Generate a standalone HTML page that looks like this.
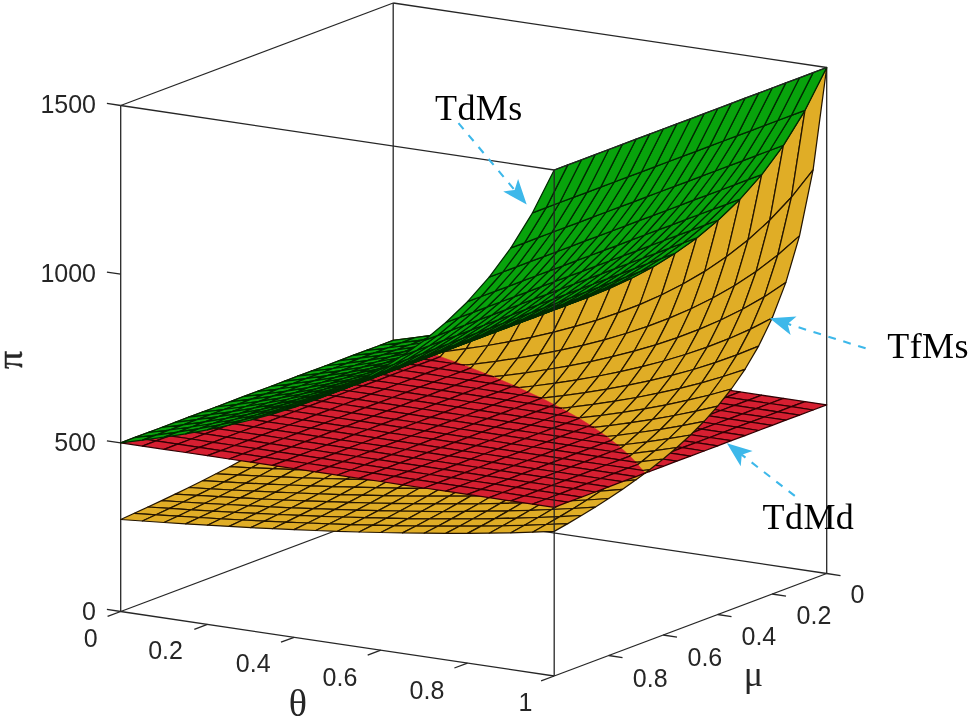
<!DOCTYPE html>
<html lang="en">
<head>
<meta charset="utf-8">
<title>Profit surfaces</title>
<style>
html,body{margin:0;padding:0;background:#fff;}
body{width:968px;height:720px;overflow:hidden;}
svg{display:block;}
.g{fill:#08a30c;stroke:#002a00;}
.y{fill:#e0ad26;stroke:#241500;}
.r{fill:#d61f31;stroke:#300003;}
.g,.y,.r{stroke-width:1.25;stroke-linejoin:round;}
.n{stroke-width:0.5;}
.g.n{stroke:#08a30c;}
.y.n{stroke:#e0ad26;}
.r.n{stroke:#d61f31;}
.e{fill:none;stroke-width:1.25;stroke-linecap:round;}
.e.y{stroke:#241500;}
.e.r{stroke:#300003;}
.b{stroke:#262626;stroke-width:1.3;fill:none;}
.tk{font-family:"Liberation Sans",Arial,Helvetica,sans-serif;font-size:25px;fill:#262626;}
.ax{font-family:"Liberation Serif","Times New Roman",serif;font-size:36px;fill:#262626;}
.an{font-family:"Liberation Serif","Times New Roman",serif;font-size:36px;fill:#000;letter-spacing:0.4px;}
.ar{stroke:#3db8ea;stroke-width:2.1;fill:none;stroke-dasharray:7.8 7.8;}
.ah{fill:#3db8ea;stroke:none;}
</style>
</head>
<body>
<svg width="968" height="720" viewBox="0 0 968 720">
<rect width="968" height="720" fill="#fff"/>
<g id="box-back">
<line class="b" x1="393.2" y1="509" x2="393.2" y2="3"/>
<line class="b" x1="393.2" y1="509" x2="826.7" y2="573.5"/>
<line class="b" x1="393.2" y1="509" x2="120.7" y2="611.5"/>
<line class="b" x1="120.7" y1="611.5" x2="554.2" y2="676"/>
<line class="b" x1="554.2" y1="676" x2="826.7" y2="573.5"/>
<line class="b" x1="120.7" y1="611.5" x2="120.7" y2="105.5"/>
<line class="b" x1="826.7" y1="573.5" x2="826.7" y2="67.5"/>
<line class="b" x1="393.2" y1="3" x2="826.7" y2="67.5"/>
<line class="b" x1="393.2" y1="3" x2="120.7" y2="105.5"/>
<line class="b" x1="120.7" y1="611.5" x2="107.6" y2="616.4"/>
<line class="b" x1="826.7" y1="573.5" x2="840.5" y2="575.6"/>
<line class="b" x1="207.4" y1="624.4" x2="194.3" y2="629.3"/>
<line class="b" x1="772.2" y1="594" x2="786" y2="596.1"/>
<line class="b" x1="294.1" y1="637.3" x2="281" y2="642.2"/>
<line class="b" x1="717.7" y1="614.5" x2="731.5" y2="616.6"/>
<line class="b" x1="380.8" y1="650.2" x2="367.7" y2="655.1"/>
<line class="b" x1="663.2" y1="635" x2="677" y2="637.1"/>
<line class="b" x1="467.5" y1="663.1" x2="454.4" y2="668"/>
<line class="b" x1="608.7" y1="655.5" x2="622.5" y2="657.6"/>
<line class="b" x1="554.2" y1="676" x2="541.1" y2="680.9"/>
<line class="b" x1="120.7" y1="611.5" x2="106.9" y2="609.4"/>
<line class="b" x1="120.7" y1="442.8" x2="106.9" y2="440.8"/>
<line class="b" x1="120.7" y1="274.2" x2="106.9" y2="272.1"/>
<line class="b" x1="120.7" y1="105.5" x2="106.9" y2="103.4"/>
</g>
<g id="surfaces">
<path class="r n" d="M393.2 340.3L414.9 343.6L408.9 345.8L393.2 340.3Z"/><path class="e r" d="M393.2 340.3L414.9 343.6M414.9 343.6L408.9 345.8M393.2 340.3L393.2 340.3"/>
<path class="y n" d="M393.2 340.3L414.9 337.7L408.9 345.8L393.2 340.3Z"/><path class="e y" d="M393.2 340.3L414.9 337.7M414.9 337.7L408.9 345.8M393.2 340.3L393.2 340.3"/>
<path class="y n" d="M393.2 340.3L393.2 340.3L408.9 345.8L401.2 356.1L379.6 357.9Z"/><path class="e y" d="M393.2 340.3L393.2 340.3M408.9 345.8L401.2 356.1M401.2 356.1L379.6 357.9M379.6 357.9L393.2 340.3"/>
<path class="r n" d="M393.2 340.3L393.2 340.3L408.9 345.8L401.2 348.7L379.6 345.5Z"/><path class="e r" d="M393.2 340.3L393.2 340.3M408.9 345.8L401.2 348.7M401.2 348.7L379.6 345.5M379.6 345.5L393.2 340.3"/>
<path class="g" d="M393.2 340.3L414.9 337.7L401.2 342.9L379.6 345.5Z"/>
<path class="r n" d="M414.9 343.6L436.6 346.8L425 351.1L408.9 345.8Z"/><path class="e r" d="M414.9 343.6L436.6 346.8M436.6 346.8L425 351.1M408.9 345.8L414.9 343.6"/>
<path class="y n" d="M414.9 337.7L436.6 334.7L425 351.1L408.9 345.8Z"/><path class="e y" d="M414.9 337.7L436.6 334.7M436.6 334.7L425 351.1M408.9 345.8L414.9 337.7"/>
<path class="g" d="M414.9 337.7L436.6 334.7L422.9 339.9L401.2 342.9Z"/>
<path class="y" d="M379.6 357.9L401.2 356.1L387.6 371.6L365.9 372.8Z"/>
<path class="y n" d="M425 351.1L422.9 354L401.2 356.1L408.9 345.8Z"/><path class="e y" d="M425 351.1L422.9 354M422.9 354L401.2 356.1M401.2 356.1L408.9 345.8"/>
<path class="r n" d="M425 351.1L422.9 351.9L401.2 348.7L408.9 345.8Z"/><path class="e r" d="M425 351.1L422.9 351.9M422.9 351.9L401.2 348.7M401.2 348.7L408.9 345.8"/>
<path class="r" d="M379.6 345.5L401.2 348.7L387.6 353.8L365.9 350.6Z"/>
<path class="g" d="M379.6 345.5L401.2 342.9L387.6 348L365.9 350.6Z"/>
<path class="r n" d="M436.6 346.8L458.2 350L444.6 355.1L431 353.1L425 351.1Z"/><path class="e r" d="M436.6 346.8L458.2 350M458.2 350L444.6 355.1M444.6 355.1L431 353.1M425 351.1L436.6 346.8"/>
<path class="y n" d="M436.6 334.7L458.2 331.3L444.6 351.6L431 353.1L425 351.1Z"/><path class="e y" d="M436.6 334.7L458.2 331.3M458.2 331.3L444.6 351.6M444.6 351.6L431 353.1M425 351.1L436.6 334.7"/>
<path class="g" d="M436.6 334.7L458.2 331.3L444.6 336.4L422.9 339.9Z"/>
<path class="y n" d="M431 353.1L422.9 354L425 351.1Z"/><path class="e y" d="M431 353.1L422.9 354M422.9 354L425 351.1"/>
<path class="r n" d="M431 353.1L422.9 351.9L425 351.1Z"/><path class="e r" d="M431 353.1L422.9 351.9M422.9 351.9L425 351.1"/>
<path class="y" d="M401.2 356.1L422.9 354L409.3 370.2L387.6 371.6Z"/>
<path class="r" d="M401.2 348.7L422.9 351.9L409.3 357L387.6 353.8Z"/>
<path class="g" d="M401.2 342.9L422.9 339.9L409.3 345L387.6 348Z"/>
<path class="y" d="M365.9 372.8L387.6 371.6L374 385.2L352.3 385.8Z"/>
<path class="r" d="M458.2 350L479.9 353.2L466.3 358.4L444.6 355.1Z"/>
<path class="r" d="M365.9 350.6L387.6 353.8L374 358.9L352.3 355.7Z"/>
<path class="g" d="M365.9 350.6L387.6 348L374 353.1L352.3 355.7Z"/>
<path class="r n" d="M431 353.1L444.6 355.1L440.5 356.7Z"/><path class="e r" d="M431 353.1L444.6 355.1M444.6 355.1L440.5 356.7"/>
<path class="y" d="M458.2 331.3L479.9 327.3L466.3 348.7L444.6 351.6Z"/>
<path class="y n" d="M431 353.1L444.6 351.6L440.5 356.7Z"/><path class="e y" d="M431 353.1L444.6 351.6M444.6 351.6L440.5 356.7"/>
<path class="g" d="M458.2 331.3L479.9 327.3L466.3 332.4L444.6 336.4Z"/>
<path class="y n" d="M422.9 354L431 353.1L440.5 356.7L431 368.5L409.3 370.2Z"/><path class="e y" d="M422.9 354L431 353.1M440.5 356.7L431 368.5M431 368.5L409.3 370.2M409.3 370.2L422.9 354"/>
<path class="r n" d="M422.9 351.9L431 353.1L440.5 356.7L431 360.3L409.3 357Z"/><path class="e r" d="M422.9 351.9L431 353.1M440.5 356.7L431 360.3M431 360.3L409.3 357M409.3 357L422.9 351.9"/>
<path class="y" d="M387.6 371.6L409.3 370.2L395.7 384.3L374 385.2Z"/>
<path class="g" d="M422.9 339.9L444.6 336.4L431 341.5L409.3 345Z"/>
<path class="r" d="M479.9 353.2L501.6 356.5L487.9 361.6L466.3 358.4Z"/>
<path class="r" d="M387.6 353.8L409.3 357L395.7 362.2L374 358.9Z"/>
<path class="y" d="M352.3 385.8L374 385.2L360.4 397.2L338.7 397.5Z"/>
<path class="r n" d="M444.6 355.1L466.3 358.4L455.9 362.3L440.5 356.7Z"/><path class="e r" d="M444.6 355.1L466.3 358.4M466.3 358.4L455.9 362.3M440.5 356.7L444.6 355.1"/>
<path class="y n" d="M444.6 351.6L466.3 348.7L455.9 362.3L440.5 356.7Z"/><path class="e y" d="M444.6 351.6L466.3 348.7M466.3 348.7L455.9 362.3M440.5 356.7L444.6 351.6"/>
<path class="g" d="M387.6 348L409.3 345L395.7 350.1L374 353.1Z"/>
<path class="y" d="M479.9 327.3L501.6 322.7L487.9 345.5L466.3 348.7Z"/>
<path class="g" d="M479.9 327.3L501.6 322.7L487.9 327.9L466.3 332.4Z"/>
<path class="r" d="M352.3 355.7L374 358.9L360.4 364.1L338.7 360.8Z"/>
<path class="g" d="M352.3 355.7L374 353.1L360.4 358.2L338.7 360.8Z"/>
<path class="y" d="M409.3 370.2L431 368.5L417.4 383.1L395.7 384.3Z"/>
<path class="y n" d="M455.9 362.3L452.6 366.5L431 368.5L440.5 356.7Z"/><path class="e y" d="M455.9 362.3L452.6 366.5M452.6 366.5L431 368.5M431 368.5L440.5 356.7"/>
<path class="g" d="M444.6 336.4L466.3 332.4L452.6 337.5L431 341.5Z"/>
<path class="r" d="M501.6 356.5L523.2 359.7L509.6 364.8L487.9 361.6Z"/>
<path class="r n" d="M455.9 362.3L452.6 363.5L431 360.3L440.5 356.7Z"/><path class="e r" d="M455.9 362.3L452.6 363.5M452.6 363.5L431 360.3M431 360.3L440.5 356.7"/>
<path class="r" d="M409.3 357L431 360.3L417.4 365.4L395.7 362.2Z"/>
<path class="y" d="M374 385.2L395.7 384.3L382.1 396.7L360.4 397.2Z"/>
<path class="g" d="M409.3 345L431 341.5L417.4 346.6L395.7 350.1Z"/>
<path class="y" d="M501.6 322.7L523.2 317.5L509.6 341.7L487.9 345.5Z"/>
<path class="g" d="M501.6 322.7L523.2 317.5L509.6 322.6L487.9 327.9Z"/>
<path class="r n" d="M466.3 358.4L487.9 361.6L474.3 366.7L464.3 365.2L455.9 362.3Z"/><path class="e r" d="M466.3 358.4L487.9 361.6M487.9 361.6L474.3 366.7M474.3 366.7L464.3 365.2M455.9 362.3L466.3 358.4"/>
<path class="y" d="M338.7 397.5L360.4 397.2L346.8 408.1L325.1 408.1Z"/>
<path class="r" d="M374 358.9L395.7 362.2L382.1 367.3L360.4 364.1Z"/>
<path class="y n" d="M466.3 348.7L487.9 345.5L474.3 364.1L464.3 365.2L455.9 362.3Z"/><path class="e y" d="M466.3 348.7L487.9 345.5M487.9 345.5L474.3 364.1M474.3 364.1L464.3 365.2M455.9 362.3L466.3 348.7"/>
<path class="y n" d="M464.3 365.2L452.6 366.5L455.9 362.3Z"/><path class="e y" d="M464.3 365.2L452.6 366.5M452.6 366.5L455.9 362.3"/>
<path class="g" d="M374 353.1L395.7 350.1L382.1 355.2L360.4 358.2Z"/>
<path class="r n" d="M464.3 365.2L452.6 363.5L455.9 362.3Z"/><path class="e r" d="M464.3 365.2L452.6 363.5M452.6 363.5L455.9 362.3"/>
<path class="y" d="M431 368.5L452.6 366.5L439 381.7L417.4 383.1Z"/>
<path class="r" d="M523.2 359.7L544.9 362.9L531.3 368L509.6 364.8Z"/>
<path class="g" d="M466.3 332.4L487.9 327.9L474.3 333L452.6 337.5Z"/>
<path class="r" d="M431 360.3L452.6 363.5L439 368.6L417.4 365.4Z"/>
<path class="y" d="M395.7 384.3L417.4 383.1L403.7 396L382.1 396.7Z"/>
<path class="r" d="M338.7 360.8L360.4 364.1L346.8 369.2L325.1 366Z"/>
<path class="g" d="M338.7 360.8L360.4 358.2L346.8 363.4L325.1 366Z"/>
<path class="g" d="M431 341.5L452.6 337.5L439 342.7L417.4 346.6Z"/>
<path class="r" d="M487.9 361.6L509.6 364.8L496 369.9L474.3 366.7Z"/>
<path class="y" d="M523.2 317.5L544.9 311.6L531.3 337.3L509.6 341.7Z"/>
<path class="y" d="M360.4 397.2L382.1 396.7L368.4 407.9L346.8 408.1Z"/>
<path class="r" d="M395.7 362.2L417.4 365.4L403.7 370.5L382.1 367.3Z"/>
<path class="y" d="M487.9 345.5L509.6 341.7L496 361.3L474.3 364.1Z"/>
<path class="g" d="M523.2 317.5L544.9 311.6L531.3 316.7L509.6 322.6Z"/>
<path class="r n" d="M464.3 365.2L474.3 366.7L471 367.9Z"/><path class="e r" d="M464.3 365.2L474.3 366.7M474.3 366.7L471 367.9"/>
<path class="y n" d="M464.3 365.2L474.3 364.1L471 367.9Z"/><path class="e y" d="M464.3 365.2L474.3 364.1M474.3 364.1L471 367.9"/>
<path class="r" d="M544.9 362.9L566.6 366.1L553 371.3L531.3 368Z"/>
<path class="y n" d="M452.6 366.5L464.3 365.2L471 367.9L460.7 380L439 381.7Z"/><path class="e y" d="M452.6 366.5L464.3 365.2M471 367.9L460.7 380M460.7 380L439 381.7M439 381.7L452.6 366.5"/>
<path class="g" d="M395.7 350.1L417.4 346.6L403.7 351.8L382.1 355.2Z"/>
<path class="r n" d="M452.6 363.5L464.3 365.2L471 367.9L460.7 371.8L439 368.6Z"/><path class="e r" d="M452.6 363.5L464.3 365.2M471 367.9L460.7 371.8M460.7 371.8L439 368.6M439 368.6L452.6 363.5"/>
<path class="y" d="M325.1 408.1L346.8 408.1L333.1 418.2L311.4 417.9Z"/>
<path class="g" d="M487.9 327.9L509.6 322.6L496 327.8L474.3 333Z"/>
<path class="r" d="M360.4 364.1L382.1 367.3L368.4 372.4L346.8 369.2Z"/>
<path class="y" d="M417.4 383.1L439 381.7L425.4 395L403.7 396Z"/>
<path class="g" d="M360.4 358.2L382.1 355.2L368.4 360.4L346.8 363.4Z"/>
<path class="r" d="M509.6 364.8L531.3 368L517.7 373.2L496 369.9Z"/>
<path class="g" d="M452.6 337.5L474.3 333L460.7 338.1L439 342.7Z"/>
<path class="r" d="M417.4 365.4L439 368.6L425.4 373.7L403.7 370.5Z"/>
<path class="r n" d="M474.3 366.7L496 369.9L485.8 373.8L471 367.9Z"/><path class="e r" d="M474.3 366.7L496 369.9M496 369.9L485.8 373.8M471 367.9L474.3 366.7"/>
<path class="y" d="M544.9 311.6L566.6 304.8L553 332.4L531.3 337.3Z"/>
<path class="y" d="M382.1 396.7L403.7 396L390.1 407.5L368.4 407.9Z"/>
<path class="y n" d="M474.3 364.1L496 361.3L485.8 373.8L471 367.9Z"/><path class="e y" d="M474.3 364.1L496 361.3M496 361.3L485.8 373.8M471 367.9L474.3 364.1"/>
<path class="y" d="M509.6 341.7L531.3 337.3L517.7 358.1L496 361.3Z"/>
<path class="r" d="M325.1 366L346.8 369.2L333.1 374.3L311.4 371.1Z"/>
<path class="r" d="M566.6 366.1L588.3 369.4L574.7 374.5L553 371.3Z"/>
<path class="g" d="M544.9 311.6L566.6 304.8L553 309.9L531.3 316.7Z"/>
<path class="g" d="M325.1 366L346.8 363.4L333.1 368.5L311.4 371.1Z"/>
<path class="g" d="M417.4 346.6L439 342.7L425.4 347.8L403.7 351.8Z"/>
<path class="y" d="M346.8 408.1L368.4 407.9L354.8 418.2L333.1 418.2Z"/>
<path class="r" d="M382.1 367.3L403.7 370.5L390.1 375.6L368.4 372.4Z"/>
<path class="g" d="M509.6 322.6L531.3 316.7L517.7 321.8L496 327.8Z"/>
<path class="y" d="M439 381.7L460.7 380L447.1 393.8L425.4 395Z"/>
<path class="y n" d="M485.8 373.8L482.4 377.9L460.7 380L471 367.9Z"/><path class="e y" d="M485.8 373.8L482.4 377.9M482.4 377.9L460.7 380M460.7 380L471 367.9"/>
<path class="r n" d="M485.8 373.8L482.4 375.1L460.7 371.8L471 367.9Z"/><path class="e r" d="M485.8 373.8L482.4 375.1M482.4 375.1L460.7 371.8M460.7 371.8L471 367.9"/>
<path class="r" d="M531.3 368L553 371.3L539.4 376.4L517.7 373.2Z"/>
<path class="g" d="M382.1 355.2L403.7 351.8L390.1 356.9L368.4 360.4Z"/>
<path class="y" d="M311.4 417.9L333.1 418.2L319.5 427.5L297.8 427.1Z"/>
<path class="r" d="M439 368.6L460.7 371.8L447.1 377L425.4 373.7Z"/>
<path class="g" d="M474.3 333L496 327.8L482.4 332.9L460.7 338.1Z"/>
<path class="y" d="M403.7 396L425.4 395L411.8 407L390.1 407.5Z"/>
<path class="r" d="M346.8 369.2L368.4 372.4L354.8 377.5L333.1 374.3Z"/>
<path class="y" d="M566.6 304.8L588.3 297.1L574.7 326.7L553 332.4Z"/>
<path class="r" d="M588.3 369.4L610 372.6L596.3 377.7L574.7 374.5Z"/>
<path class="y" d="M531.3 337.3L553 332.4L539.4 354.4L517.7 358.1Z"/>
<path class="g" d="M346.8 363.4L368.4 360.4L354.8 365.5L333.1 368.5Z"/>
<path class="g" d="M566.6 304.8L588.3 297.1L574.7 302.2L553 309.9Z"/>
<path class="r n" d="M496 369.9L517.7 373.2L504.1 378.3L493.5 376.7L485.8 373.8Z"/><path class="e r" d="M496 369.9L517.7 373.2M517.7 373.2L504.1 378.3M504.1 378.3L493.5 376.7M485.8 373.8L496 369.9"/>
<path class="g" d="M439 342.7L460.7 338.1L447.1 343.2L425.4 347.8Z"/>
<path class="y" d="M368.4 407.9L390.1 407.5L376.5 418.1L354.8 418.2Z"/>
<path class="y n" d="M496 361.3L517.7 358.1L504.1 375.6L493.5 376.7L485.8 373.8Z"/><path class="e y" d="M496 361.3L517.7 358.1M517.7 358.1L504.1 375.6M504.1 375.6L493.5 376.7M485.8 373.8L496 361.3"/>
<path class="r" d="M403.7 370.5L425.4 373.7L411.8 378.9L390.1 375.6Z"/>
<path class="y n" d="M493.5 376.7L482.4 377.9L485.8 373.8Z"/><path class="e y" d="M493.5 376.7L482.4 377.9M482.4 377.9L485.8 373.8"/>
<path class="r n" d="M493.5 376.7L482.4 375.1L485.8 373.8Z"/><path class="e r" d="M493.5 376.7L482.4 375.1M482.4 375.1L485.8 373.8"/>
<path class="r" d="M311.4 371.1L333.1 374.3L319.5 379.4L297.8 376.2Z"/>
<path class="r" d="M553 371.3L574.7 374.5L561 379.6L539.4 376.4Z"/>
<path class="g" d="M531.3 316.7L553 309.9L539.4 315L517.7 321.8Z"/>
<path class="y" d="M460.7 380L482.4 377.9L468.8 392.4L447.1 393.8Z"/>
<path class="g" d="M311.4 371.1L333.1 368.5L319.5 373.6L297.8 376.2Z"/>
<path class="y" d="M333.1 418.2L354.8 418.2L341.2 427.8L319.5 427.5Z"/>
<path class="g" d="M403.7 351.8L425.4 347.8L411.8 352.9L390.1 356.9Z"/>
<path class="r" d="M460.7 371.8L482.4 375.1L468.8 380.2L447.1 377Z"/>
<path class="r" d="M368.4 372.4L390.1 375.6L376.5 380.8L354.8 377.5Z"/>
<path class="y" d="M425.4 395L447.1 393.8L433.4 406.2L411.8 407Z"/>
<path class="r" d="M610 372.6L631.6 375.8L618 380.9L596.3 377.7Z"/>
<path class="g" d="M496 327.8L517.7 321.8L504.1 327L482.4 332.9Z"/>
<path class="y" d="M588.3 297.1L610 288.2L596.3 320.3L574.7 326.7Z"/>
<path class="r" d="M517.7 373.2L539.4 376.4L525.7 381.5L504.1 378.3Z"/>
<path class="y" d="M553 332.4L574.7 326.7L561 350.2L539.4 354.4Z"/>
<path class="y" d="M297.8 427.1L319.5 427.5L305.9 436.3L284.2 435.7Z"/>
<path class="g" d="M368.4 360.4L390.1 356.9L376.5 362L354.8 365.5Z"/>
<path class="r" d="M425.4 373.7L447.1 377L433.4 382.1L411.8 378.9Z"/>
<path class="y" d="M390.1 407.5L411.8 407L398.1 417.9L376.5 418.1Z"/>
<path class="g" d="M588.3 297.1L610 288.2L596.3 293.4L574.7 302.2Z"/>
<path class="y" d="M517.7 358.1L539.4 354.4L525.7 372.8L504.1 375.6Z"/>
<path class="g" d="M460.7 338.1L482.4 332.9L468.8 338L447.1 343.2Z"/>
<path class="r n" d="M493.5 376.7L504.1 378.3L500.3 379.7Z"/><path class="e r" d="M493.5 376.7L504.1 378.3M504.1 378.3L500.3 379.7"/>
<path class="y n" d="M493.5 376.7L504.1 375.6L500.3 379.7Z"/><path class="e y" d="M493.5 376.7L504.1 375.6M504.1 375.6L500.3 379.7"/>
<path class="r" d="M333.1 374.3L354.8 377.5L341.2 382.7L319.5 379.4Z"/>
<path class="r" d="M574.7 374.5L596.3 377.7L582.7 382.8L561 379.6Z"/>
<path class="y n" d="M482.4 377.9L493.5 376.7L500.3 379.7L490.4 390.6L468.8 392.4Z"/><path class="e y" d="M482.4 377.9L493.5 376.7M500.3 379.7L490.4 390.6M490.4 390.6L468.8 392.4M468.8 392.4L482.4 377.9"/>
<path class="g" d="M333.1 368.5L354.8 365.5L341.2 370.6L319.5 373.6Z"/>
<path class="r n" d="M482.4 375.1L493.5 376.7L500.3 379.7L490.4 383.4L468.8 380.2Z"/><path class="e r" d="M482.4 375.1L493.5 376.7M500.3 379.7L490.4 383.4M490.4 383.4L468.8 380.2M468.8 380.2L482.4 375.1"/>
<path class="g" d="M553 309.9L574.7 302.2L561 307.3L539.4 315Z"/>
<path class="y" d="M354.8 418.2L376.5 418.1L362.9 427.9L341.2 427.8Z"/>
<path class="g" d="M425.4 347.8L447.1 343.2L433.4 348.4L411.8 352.9Z"/>
<path class="r" d="M390.1 375.6L411.8 378.9L398.1 384L376.5 380.8Z"/>
<path class="r" d="M631.6 375.8L653.3 379L639.7 384.2L618 380.9Z"/>
<path class="y" d="M447.1 393.8L468.8 392.4L455.1 405.2L433.4 406.2Z"/>
<path class="r" d="M297.8 376.2L319.5 379.4L305.9 384.6L284.2 381.3Z"/>
<path class="r" d="M539.4 376.4L561 379.6L547.4 384.7L525.7 381.5Z"/>
<path class="g" d="M517.7 321.8L539.4 315L525.7 320.2L504.1 327Z"/>
<path class="g" d="M297.8 376.2L319.5 373.6L305.9 378.7L284.2 381.3Z"/>
<path class="y" d="M319.5 427.5L341.2 427.8L327.6 436.8L305.9 436.3Z"/>
<path class="g" d="M390.1 356.9L411.8 352.9L398.1 358L376.5 362Z"/>
<path class="y" d="M574.7 326.7L596.3 320.3L582.7 345.4L561 350.2Z"/>
<path class="r" d="M447.1 377L468.8 380.2L455.1 385.3L433.4 382.1Z"/>
<path class="y" d="M610 288.2L631.6 278.2L618 312.9L596.3 320.3Z"/>
<path class="r n" d="M504.1 378.3L525.7 381.5L514.5 385.7L500.3 379.7Z"/><path class="e r" d="M504.1 378.3L525.7 381.5M525.7 381.5L514.5 385.7M500.3 379.7L504.1 378.3"/>
<path class="y" d="M411.8 407L433.4 406.2L419.8 417.4L398.1 417.9Z"/>
<path class="y n" d="M504.1 375.6L525.7 372.8L514.5 385.7L500.3 379.7Z"/><path class="e y" d="M504.1 375.6L525.7 372.8M525.7 372.8L514.5 385.7M500.3 379.7L504.1 375.6"/>
<path class="y" d="M539.4 354.4L561 350.2L547.4 369.5L525.7 372.8Z"/>
<path class="r" d="M354.8 377.5L376.5 380.8L362.9 385.9L341.2 382.7Z"/>
<path class="r" d="M596.3 377.7L618 380.9L604.4 386.1L582.7 382.8Z"/>
<path class="g" d="M482.4 332.9L504.1 327L490.4 332.1L468.8 338Z"/>
<path class="g" d="M610 288.2L631.6 278.2L618 283.3L596.3 293.4Z"/>
<path class="y" d="M284.2 435.7L305.9 436.3L292.2 444.7L270.6 444Z"/>
<path class="g" d="M354.8 365.5L376.5 362L362.9 367.1L341.2 370.6Z"/>
<path class="y" d="M376.5 418.1L398.1 417.9L384.5 427.9L362.9 427.9Z"/>
<path class="r" d="M411.8 378.9L433.4 382.1L419.8 387.2L398.1 384Z"/>
<path class="g" d="M574.7 302.2L596.3 293.4L582.7 298.5L561 307.3Z"/>
<path class="r" d="M653.3 379L675 382.3L661.4 387.4L639.7 384.2Z"/>
<path class="g" d="M447.1 343.2L468.8 338L455.1 343.1L433.4 348.4Z"/>
<path class="y" d="M468.8 392.4L490.4 390.6L476.8 403.9L455.1 405.2Z"/>
<path class="r" d="M319.5 379.4L341.2 382.7L327.6 387.8L305.9 384.6Z"/>
<path class="y n" d="M514.5 385.7L512.1 388.5L490.4 390.6L500.3 379.7Z"/><path class="e y" d="M514.5 385.7L512.1 388.5M512.1 388.5L490.4 390.6M490.4 390.6L500.3 379.7"/>
<path class="r" d="M561 379.6L582.7 382.8L569.1 388L547.4 384.7Z"/>
<path class="r n" d="M514.5 385.7L512.1 386.6L490.4 383.4L500.3 379.7Z"/><path class="e r" d="M514.5 385.7L512.1 386.6M512.1 386.6L490.4 383.4M490.4 383.4L500.3 379.7"/>
<path class="g" d="M319.5 373.6L341.2 370.6L327.6 375.7L305.9 378.7Z"/>
<path class="y" d="M341.2 427.8L362.9 427.9L349.2 437.1L327.6 436.8Z"/>
<path class="r" d="M468.8 380.2L490.4 383.4L476.8 388.5L455.1 385.3Z"/>
<path class="g" d="M539.4 315L561 307.3L547.4 312.4L525.7 320.2Z"/>
<path class="g" d="M411.8 352.9L433.4 348.4L419.8 353.5L398.1 358Z"/>
<path class="y" d="M433.4 406.2L455.1 405.2L441.5 416.7L419.8 417.4Z"/>
<path class="y" d="M596.3 320.3L618 312.9L604.4 339.8L582.7 345.4Z"/>
<path class="r" d="M376.5 380.8L398.1 384L384.5 389.1L362.9 385.9Z"/>
<path class="y" d="M631.6 278.2L653.3 266.6L639.7 304.6L618 312.9Z"/>
<path class="r" d="M618 380.9L639.7 384.2L626 389.3L604.4 386.1Z"/>
<path class="y" d="M561 350.2L582.7 345.4L569.1 365.8L547.4 369.5Z"/>
<path class="r" d="M284.2 381.3L305.9 384.6L292.2 389.7L270.6 386.5Z"/>
<path class="g" d="M504.1 327L525.7 320.2L512.1 325.3L490.4 332.1Z"/>
<path class="g" d="M284.2 381.3L305.9 378.7L292.2 383.9L270.6 386.5Z"/>
<path class="y" d="M305.9 436.3L327.6 436.8L313.9 445.3L292.2 444.7Z"/>
<path class="r n" d="M525.7 381.5L547.4 384.7L533.8 389.9L519.2 387.7L514.5 385.7Z"/><path class="e r" d="M525.7 381.5L547.4 384.7M547.4 384.7L533.8 389.9M533.8 389.9L519.2 387.7M514.5 385.7L525.7 381.5"/>
<path class="g" d="M631.6 278.2L653.3 266.6L639.7 271.7L618 283.3Z"/>
<path class="y" d="M398.1 417.9L419.8 417.4L406.2 427.7L384.5 427.9Z"/>
<path class="y n" d="M525.7 372.8L547.4 369.5L533.8 386L519.2 387.7L514.5 385.7Z"/><path class="e y" d="M525.7 372.8L547.4 369.5M547.4 369.5L533.8 386M533.8 386L519.2 387.7M514.5 385.7L525.7 372.8"/>
<path class="g" d="M376.5 362L398.1 358L384.5 363.2L362.9 367.1Z"/>
<path class="r" d="M433.4 382.1L455.1 385.3L441.5 390.4L419.8 387.2Z"/>
<path class="r" d="M675 382.3L696.7 385.5L683 390.6L661.4 387.4Z"/>
<path class="y n" d="M519.2 387.7L512.1 388.5L514.5 385.7Z"/><path class="e y" d="M519.2 387.7L512.1 388.5M512.1 388.5L514.5 385.7"/>
<path class="r n" d="M519.2 387.7L512.1 386.6L514.5 385.7Z"/><path class="e r" d="M519.2 387.7L512.1 386.6M512.1 386.6L514.5 385.7"/>
<path class="r" d="M341.2 382.7L362.9 385.9L349.2 391L327.6 387.8Z"/>
<path class="r" d="M582.7 382.8L604.4 386.1L590.8 391.2L569.1 388Z"/>
<path class="g" d="M468.8 338L490.4 332.1L476.8 337.2L455.1 343.1Z"/>
<path class="y" d="M490.4 390.6L512.1 388.5L498.5 402.3L476.8 403.9Z"/>
<path class="g" d="M596.3 293.4L618 283.3L604.4 288.4L582.7 298.5Z"/>
<path class="y" d="M270.6 444L292.2 444.7L278.6 452.7L256.9 451.8Z"/>
<path class="r" d="M490.4 383.4L512.1 386.6L498.5 391.8L476.8 388.5Z"/>
<path class="y" d="M362.9 427.9L384.5 427.9L370.9 437.3L349.2 437.1Z"/>
<path class="g" d="M341.2 370.6L362.9 367.1L349.2 372.3L327.6 375.7Z"/>
<path class="r" d="M398.1 384L419.8 387.2L406.2 392.3L384.5 389.1Z"/>
<path class="g" d="M561 307.3L582.7 298.5L569.1 303.6L547.4 312.4Z"/>
<path class="y" d="M455.1 405.2L476.8 403.9L463.2 415.8L441.5 416.7Z"/>
<path class="r" d="M639.7 384.2L661.4 387.4L647.7 392.5L626 389.3Z"/>
<path class="g" d="M433.4 348.4L455.1 343.1L441.5 348.3L419.8 353.5Z"/>
<path class="y" d="M618 312.9L639.7 304.6L626 333.5L604.4 339.8Z"/>
<path class="r" d="M305.9 384.6L327.6 387.8L313.9 392.9L292.2 389.7Z"/>
<path class="r" d="M547.4 384.7L569.1 388L555.5 393.1L533.8 389.9Z"/>
<path class="y" d="M582.7 345.4L604.4 339.8L590.8 361.6L569.1 365.8Z"/>
<path class="y" d="M653.3 266.6L675 253.3L661.4 295L639.7 304.6Z"/>
<path class="y" d="M327.6 436.8L349.2 437.1L335.6 445.8L313.9 445.3Z"/>
<path class="g" d="M305.9 378.7L327.6 375.7L313.9 380.9L292.2 383.9Z"/>
<path class="r" d="M455.1 385.3L476.8 388.5L463.2 393.7L441.5 390.4Z"/>
<path class="g" d="M525.7 320.2L547.4 312.4L533.8 317.6L512.1 325.3Z"/>
<path class="y" d="M419.8 417.4L441.5 416.7L427.9 427.3L406.2 427.7Z"/>
<path class="y" d="M547.4 369.5L569.1 365.8L555.5 383.2L533.8 386Z"/>
<path class="r" d="M696.7 385.5L718.3 388.7L704.7 393.8L683 390.6Z"/>
<path class="r n" d="M519.2 387.7L533.8 389.9L528.1 392Z"/><path class="e r" d="M519.2 387.7L533.8 389.9M533.8 389.9L528.1 392"/>
<path class="g" d="M398.1 358L419.8 353.5L406.2 358.6L384.5 363.2Z"/>
<path class="y n" d="M519.2 387.7L533.8 386L528.1 392Z"/><path class="e y" d="M519.2 387.7L533.8 386M533.8 386L528.1 392"/>
<path class="r" d="M362.9 385.9L384.5 389.1L370.9 394.2L349.2 391Z"/>
<path class="g" d="M653.3 266.6L675 253.3L661.4 258.4L639.7 271.7Z"/>
<path class="r" d="M604.4 386.1L626 389.3L612.4 394.4L590.8 391.2Z"/>
<path class="y n" d="M512.1 388.5L519.2 387.7L528.1 392L520.2 400.4L498.5 402.3Z"/><path class="e y" d="M512.1 388.5L519.2 387.7M528.1 392L520.2 400.4M520.2 400.4L498.5 402.3M498.5 402.3L512.1 388.5"/>
<path class="r n" d="M512.1 386.6L519.2 387.7L528.1 392L520.2 395L498.5 391.8Z"/><path class="e r" d="M512.1 386.6L519.2 387.7M528.1 392L520.2 395M520.2 395L498.5 391.8M498.5 391.8L512.1 386.6"/>
<path class="r" d="M270.6 386.5L292.2 389.7L278.6 394.8L256.9 391.6Z"/>
<path class="y" d="M292.2 444.7L313.9 445.3L300.3 453.4L278.6 452.7Z"/>
<path class="g" d="M490.4 332.1L512.1 325.3L498.5 330.4L476.8 337.2Z"/>
<path class="g" d="M270.6 386.5L292.2 383.9L278.6 389L256.9 391.6Z"/>
<path class="y" d="M384.5 427.9L406.2 427.7L392.6 437.3L370.9 437.3Z"/>
<path class="g" d="M618 283.3L639.7 271.7L626 276.8L604.4 288.4Z"/>
<path class="g" d="M362.9 367.1L384.5 363.2L370.9 368.3L349.2 372.3Z"/>
<path class="r" d="M419.8 387.2L441.5 390.4L427.9 395.6L406.2 392.3Z"/>
<path class="r" d="M661.4 387.4L683 390.6L669.4 395.7L647.7 392.5Z"/>
<path class="y" d="M476.8 403.9L498.5 402.3L484.9 414.7L463.2 415.8Z"/>
<path class="r" d="M327.6 387.8L349.2 391L335.6 396.1L313.9 392.9Z"/>
<path class="r" d="M569.1 388L590.8 391.2L577.1 396.3L555.5 393.1Z"/>
<path class="g" d="M455.1 343.1L476.8 337.2L463.2 342.3L441.5 348.3Z"/>
<path class="g" d="M582.7 298.5L604.4 288.4L590.8 293.5L569.1 303.6Z"/>
<path class="y" d="M256.9 451.8L278.6 452.7L265 460.3L243.3 459.4Z"/>
<path class="y" d="M639.7 304.6L661.4 295L647.7 326.3L626 333.5Z"/>
<path class="y" d="M349.2 437.1L370.9 437.3L357.3 446.1L335.6 445.8Z"/>
<path class="y" d="M604.4 339.8L626 333.5L612.4 356.7L590.8 361.6Z"/>
<path class="r" d="M476.8 388.5L498.5 391.8L484.9 396.9L463.2 393.7Z"/>
<path class="r" d="M718.3 388.7L740 391.9L726.4 397.1L704.7 393.8Z"/>
<path class="g" d="M327.6 375.7L349.2 372.3L335.6 377.4L313.9 380.9Z"/>
<path class="y" d="M441.5 416.7L463.2 415.8L449.5 426.7L427.9 427.3Z"/>
<path class="y" d="M675 253.3L696.7 237.9L683 284L661.4 295Z"/>
<path class="y" d="M569.1 365.8L590.8 361.6L577.1 379.9L555.5 383.2Z"/>
<path class="r" d="M384.5 389.1L406.2 392.3L392.6 397.5L370.9 394.2Z"/>
<path class="g" d="M547.4 312.4L569.1 303.6L555.5 308.8L533.8 317.6Z"/>
<path class="r" d="M626 389.3L647.7 392.5L634.1 397.6L612.4 394.4Z"/>
<path class="g" d="M419.8 353.5L441.5 348.3L427.9 353.4L406.2 358.6Z"/>
<path class="r" d="M292.2 389.7L313.9 392.9L300.3 398L278.6 394.8Z"/>
<path class="y" d="M313.9 445.3L335.6 445.8L322 454L300.3 453.4Z"/>
<path class="r n" d="M533.8 389.9L555.5 393.1L541.8 398.2L541.8 398.2L528.1 392Z"/><path class="e r" d="M533.8 389.9L555.5 393.1M555.5 393.1L541.8 398.2M541.8 398.2L541.8 398.2M528.1 392L533.8 389.9"/>
<path class="g" d="M675 253.3L696.7 237.9L683 243L661.4 258.4Z"/>
<path class="g" d="M292.2 383.9L313.9 380.9L300.3 386L278.6 389Z"/>
<path class="y n" d="M533.8 386L555.5 383.2L541.8 398.2L541.8 398.2L528.1 392Z"/><path class="e y" d="M533.8 386L555.5 383.2M555.5 383.2L541.8 398.2M541.8 398.2L541.8 398.2M528.1 392L533.8 386"/>
<path class="y" d="M406.2 427.7L427.9 427.3L414.2 437.2L392.6 437.3Z"/>
<path class="r" d="M441.5 390.4L463.2 393.7L449.5 398.8L427.9 395.6Z"/>
<path class="g" d="M512.1 325.3L533.8 317.6L520.2 322.7L498.5 330.4Z"/>
<path class="r" d="M683 390.6L704.7 393.8L691.1 399L669.4 395.7Z"/>
<path class="g" d="M384.5 363.2L406.2 358.6L392.6 363.7L370.9 368.3Z"/>
<path class="r" d="M349.2 391L370.9 394.2L357.3 399.4L335.6 396.1Z"/>
<path class="g" d="M639.7 271.7L661.4 258.4L647.7 263.5L626 276.8Z"/>
<path class="y" d="M498.5 402.3L520.2 400.4L506.5 413.3L484.9 414.7Z"/>
<path class="r" d="M590.8 391.2L612.4 394.4L598.8 399.5L577.1 396.3Z"/>
<path class="y" d="M278.6 452.7L300.3 453.4L286.7 461.2L265 460.3Z"/>
<path class="y n" d="M541.8 398.2L541.8 398.2L520.2 400.4L528.1 392Z"/><path class="e y" d="M541.8 398.2L541.8 398.2M541.8 398.2L520.2 400.4M520.2 400.4L528.1 392"/>
<path class="r" d="M256.9 391.6L278.6 394.8L265 399.9L243.3 396.7Z"/>
<path class="r n" d="M541.8 398.2L541.8 398.2L520.2 395L528.1 392Z"/><path class="e r" d="M541.8 398.2L541.8 398.2M541.8 398.2L520.2 395M520.2 395L528.1 392"/>
<path class="r" d="M498.5 391.8L520.2 395L506.5 400.1L484.9 396.9Z"/>
<path class="g" d="M476.8 337.2L498.5 330.4L484.9 335.5L463.2 342.3Z"/>
<path class="y" d="M370.9 437.3L392.6 437.3L378.9 446.4L357.3 446.1Z"/>
<path class="g" d="M256.9 391.6L278.6 389L265 394.1L243.3 396.7Z"/>
<path class="r" d="M740 391.9L761.7 395.2L748 400.3L726.4 397.1Z"/>
<path class="g" d="M604.4 288.4L626 276.8L612.4 282L590.8 293.5Z"/>
<path class="y" d="M626 333.5L647.7 326.3L634.1 351.2L612.4 356.7Z"/>
<path class="y" d="M661.4 295L683 284L669.4 318.1L647.7 326.3Z"/>
<path class="g" d="M349.2 372.3L370.9 368.3L357.3 373.4L335.6 377.4Z"/>
<path class="r" d="M406.2 392.3L427.9 395.6L414.2 400.7L392.6 397.5Z"/>
<path class="y" d="M463.2 415.8L484.9 414.7L471.2 426L449.5 426.7Z"/>
<path class="r" d="M647.7 392.5L669.4 395.7L655.8 400.9L634.1 397.6Z"/>
<path class="y" d="M590.8 361.6L612.4 356.7L598.8 376L577.1 379.9Z"/>
<path class="r" d="M313.9 392.9L335.6 396.1L322 401.3L300.3 398Z"/>
<path class="r" d="M555.5 393.1L577.1 396.3L563.5 401.4L541.8 398.2Z"/>
<path class="g" d="M441.5 348.3L463.2 342.3L449.5 347.5L427.9 353.4Z"/>
<path class="y" d="M243.3 459.4L265 460.3L251.4 467.8L229.7 466.7Z"/>
<path class="g" d="M569.1 303.6L590.8 293.5L577.1 298.7L555.5 308.8Z"/>
<path class="y" d="M696.7 237.9L718.3 220L704.7 271.4L683 284Z"/>
<path class="y" d="M335.6 445.8L357.3 446.1L343.6 454.6L322 454Z"/>
<path class="y" d="M555.5 383.2L577.1 379.9L563.5 395.6L541.8 398.2Z"/>
<path class="r" d="M463.2 393.7L484.9 396.9L471.2 402L449.5 398.8Z"/>
<path class="y" d="M427.9 427.3L449.5 426.7L435.9 436.9L414.2 437.2Z"/>
<path class="r" d="M704.7 393.8L726.4 397.1L712.8 402.2L691.1 399Z"/>
<path class="g" d="M313.9 380.9L335.6 377.4L322 382.5L300.3 386Z"/>
<path class="r" d="M370.9 394.2L392.6 397.5L378.9 402.6L357.3 399.4Z"/>
<path class="g" d="M533.8 317.6L555.5 308.8L541.8 313.9L520.2 322.7Z"/>
<path class="r" d="M612.4 394.4L634.1 397.6L620.5 402.8L598.8 399.5Z"/>
<path class="g" d="M406.2 358.6L427.9 353.4L414.2 358.5L392.6 363.7Z"/>
<path class="g" d="M696.7 237.9L718.3 220L704.7 225.2L683 243Z"/>
<path class="y" d="M520.2 400.4L541.8 398.2L528.2 411.6L506.5 413.3Z"/>
<path class="r" d="M278.6 394.8L300.3 398L286.7 403.2L265 399.9Z"/>
<path class="y" d="M300.3 453.4L322 454L308.4 462L286.7 461.2Z"/>
<path class="r" d="M520.2 395L541.8 398.2L528.2 403.3L506.5 400.1Z"/>
<path class="r" d="M761.7 395.2L783.4 398.4L769.7 403.5L748 400.3Z"/>
<path class="y" d="M392.6 437.3L414.2 437.2L400.6 446.4L378.9 446.4Z"/>
<path class="g" d="M661.4 258.4L683 243L669.4 248.1L647.7 263.5Z"/>
<path class="g" d="M278.6 389L300.3 386L286.7 391.1L265 394.1Z"/>
<path class="r" d="M427.9 395.6L449.5 398.8L435.9 403.9L414.2 400.7Z"/>
<path class="g" d="M498.5 330.4L520.2 322.7L506.5 327.8L484.9 335.5Z"/>
<path class="r" d="M669.4 395.7L691.1 399L677.5 404.1L655.8 400.9Z"/>
<path class="y" d="M484.9 414.7L506.5 413.3L492.9 424.9L471.2 426Z"/>
<path class="g" d="M370.9 368.3L392.6 363.7L378.9 368.9L357.3 373.4Z"/>
<path class="y" d="M647.7 326.3L669.4 318.1L655.8 344.9L634.1 351.2Z"/>
<path class="r" d="M335.6 396.1L357.3 399.4L343.6 404.5L322 401.3Z"/>
<path class="g" d="M626 276.8L647.7 263.5L634.1 268.7L612.4 282Z"/>
<path class="y" d="M683 284L704.7 271.4L691.1 308.7L669.4 318.1Z"/>
<path class="r" d="M577.1 396.3L598.8 399.5L585.2 404.7L563.5 401.4Z"/>
<path class="y" d="M612.4 356.7L634.1 351.2L620.5 371.7L598.8 376Z"/>
<path class="r n" d="M541.8 398.2L563.5 401.4L554.5 404.8L541.8 398.2Z"/><path class="e r" d="M541.8 398.2L563.5 401.4M563.5 401.4L554.5 404.8M541.8 398.2L541.8 398.2"/>
<path class="y" d="M265 460.3L286.7 461.2L273 468.7L251.4 467.8Z"/>
<path class="y n" d="M541.8 398.2L563.5 395.6L554.5 404.8L541.8 398.2Z"/><path class="e y" d="M541.8 398.2L563.5 395.6M563.5 395.6L554.5 404.8M541.8 398.2L541.8 398.2"/>
<path class="y" d="M357.3 446.1L378.9 446.4L365.3 454.9L343.6 454.6Z"/>
<path class="r" d="M243.3 396.7L265 399.9L251.4 405.1L229.7 401.8Z"/>
<path class="r" d="M484.9 396.9L506.5 400.1L492.9 405.2L471.2 402Z"/>
<path class="g" d="M463.2 342.3L484.9 335.5L471.2 340.7L449.5 347.5Z"/>
<path class="g" d="M243.3 396.7L265 394.1L251.4 399.2L229.7 401.8Z"/>
<path class="r" d="M726.4 397.1L748 400.3L734.4 405.4L712.8 402.2Z"/>
<path class="y" d="M577.1 379.9L598.8 376L585.2 392.6L563.5 395.6Z"/>
<path class="y" d="M449.5 426.7L471.2 426L457.6 436.4L435.9 436.9Z"/>
<path class="g" d="M590.8 293.5L612.4 282L598.8 287.1L577.1 298.7Z"/>
<path class="g" d="M335.6 377.4L357.3 373.4L343.6 378.5L322 382.5Z"/>
<path class="r" d="M392.6 397.5L414.2 400.7L400.6 405.8L378.9 402.6Z"/>
<path class="r" d="M634.1 397.6L655.8 400.9L642.2 406L620.5 402.8Z"/>
<path class="y" d="M718.3 220L740 199.2L726.4 256.8L704.7 271.4Z"/>
<path class="y n" d="M541.8 398.2L541.8 398.2L554.5 404.8L549.9 409.5L528.2 411.6Z"/><path class="e y" d="M541.8 398.2L541.8 398.2M554.5 404.8L549.9 409.5M549.9 409.5L528.2 411.6M528.2 411.6L541.8 398.2"/>
<path class="r n" d="M541.8 398.2L541.8 398.2L554.5 404.8L549.9 406.6L528.2 403.3Z"/><path class="e r" d="M541.8 398.2L541.8 398.2M554.5 404.8L549.9 406.6M549.9 406.6L528.2 403.3M528.2 403.3L541.8 398.2"/>
<path class="r" d="M300.3 398L322 401.3L308.4 406.4L286.7 403.2Z"/>
<path class="y" d="M229.7 466.7L251.4 467.8L237.8 474.9L216.1 473.8Z"/>
<path class="g" d="M427.9 353.4L449.5 347.5L435.9 352.6L414.2 358.5Z"/>
<path class="y" d="M322 454L343.6 454.6L330 462.6L308.4 462Z"/>
<path class="g" d="M555.5 308.8L577.1 298.7L563.5 303.8L541.8 313.9Z"/>
<path class="r" d="M783.4 398.4L805 401.6L791.4 406.7L769.7 403.5Z"/>
<path class="y" d="M414.2 437.2L435.9 436.9L422.3 446.3L400.6 446.4Z"/>
<path class="r" d="M449.5 398.8L471.2 402L457.6 407.1L435.9 403.9Z"/>
<path class="r" d="M691.1 399L712.8 402.2L699.1 407.3L677.5 404.1Z"/>
<path class="g" d="M300.3 386L322 382.5L308.4 387.6L286.7 391.1Z"/>
<path class="g" d="M718.3 220L740 199.2L726.4 204.3L704.7 225.2Z"/>
<path class="y" d="M506.5 413.3L528.2 411.6L514.6 423.6L492.9 424.9Z"/>
<path class="r" d="M357.3 399.4L378.9 402.6L365.3 407.7L343.6 404.5Z"/>
<path class="g" d="M520.2 322.7L541.8 313.9L528.2 319L506.5 327.8Z"/>
<path class="r" d="M598.8 399.5L620.5 402.8L606.9 407.9L585.2 404.7Z"/>
<path class="g" d="M392.6 363.7L414.2 358.5L400.6 363.6L378.9 368.9Z"/>
<path class="g" d="M683 243L704.7 225.2L691.1 230.3L669.4 248.1Z"/>
<path class="y" d="M286.7 461.2L308.4 462L294.7 469.6L273 468.7Z"/>
<path class="y" d="M669.4 318.1L691.1 308.7L677.5 337.6L655.8 344.9Z"/>
<path class="r" d="M265 399.9L286.7 403.2L273 408.3L251.4 405.1Z"/>
<path class="y" d="M378.9 446.4L400.6 446.4L387 455.2L365.3 454.9Z"/>
<path class="y" d="M634.1 351.2L655.8 344.9L642.2 366.7L620.5 371.7Z"/>
<path class="r" d="M506.5 400.1L528.2 403.3L514.6 408.5L492.9 405.2Z"/>
<path class="r" d="M748 400.3L769.7 403.5L756.1 408.6L734.4 405.4Z"/>
<path class="y" d="M704.7 271.4L726.4 256.8L712.8 298L691.1 308.7Z"/>
<path class="g" d="M647.7 263.5L669.4 248.1L655.8 253.3L634.1 268.7Z"/>
<path class="g" d="M265 394.1L286.7 391.1L273 396.2L251.4 399.2Z"/>
<path class="y" d="M471.2 426L492.9 424.9L479.3 435.6L457.6 436.4Z"/>
<path class="r" d="M414.2 400.7L435.9 403.9L422.3 409L400.6 405.8Z"/>
<path class="g" d="M484.9 335.5L506.5 327.8L492.9 332.9L471.2 340.7Z"/>
<path class="y" d="M598.8 376L620.5 371.7L606.9 389.1L585.2 392.6Z"/>
<path class="r" d="M655.8 400.9L677.5 404.1L663.8 409.2L642.2 406Z"/>
<path class="g" d="M357.3 373.4L378.9 368.9L365.3 374L343.6 378.5Z"/>
<path class="r" d="M322 401.3L343.6 404.5L330 409.6L308.4 406.4Z"/>
<path class="g" d="M612.4 282L634.1 268.7L620.5 273.8L598.8 287.1Z"/>
<path class="y" d="M251.4 467.8L273 468.7L259.4 476L237.8 474.9Z"/>
<path class="r" d="M805 401.6L826.7 404.8L813.1 410L791.4 406.7Z"/>
<path class="r n" d="M563.5 401.4L585.2 404.7L571.5 409.8L561.4 408.3L554.5 404.8Z"/><path class="e r" d="M563.5 401.4L585.2 404.7M585.2 404.7L571.5 409.8M571.5 409.8L561.4 408.3M554.5 404.8L563.5 401.4"/>
<path class="y" d="M343.6 454.6L365.3 454.9L351.7 463.1L330 462.6Z"/>
<path class="y n" d="M563.5 395.6L585.2 392.6L571.5 407.1L561.4 408.3L554.5 404.8Z"/><path class="e y" d="M563.5 395.6L585.2 392.6M585.2 392.6L571.5 407.1M571.5 407.1L561.4 408.3M554.5 404.8L563.5 395.6"/>
<path class="r" d="M229.7 401.8L251.4 405.1L237.8 410.2L216.1 407Z"/>
<path class="y" d="M435.9 436.9L457.6 436.4L444 446.1L422.3 446.3Z"/>
<path class="r" d="M471.2 402L492.9 405.2L479.3 410.4L457.6 407.1Z"/>
<path class="g" d="M449.5 347.5L471.2 340.7L457.6 345.8L435.9 352.6Z"/>
<path class="g" d="M229.7 401.8L251.4 399.2L237.8 404.4L216.1 407Z"/>
<path class="y" d="M740 199.2L761.7 174.6L748 240L726.4 256.8Z"/>
<path class="r" d="M712.8 402.2L734.4 405.4L720.8 410.5L699.1 407.3Z"/>
<path class="y n" d="M561.4 408.3L549.9 409.5L554.5 404.8Z"/><path class="e y" d="M561.4 408.3L549.9 409.5M549.9 409.5L554.5 404.8"/>
<path class="g" d="M577.1 298.7L598.8 287.1L585.2 292.2L563.5 303.8Z"/>
<path class="r n" d="M561.4 408.3L549.9 406.6L554.5 404.8Z"/><path class="e r" d="M561.4 408.3L549.9 406.6M549.9 406.6L554.5 404.8"/>
<path class="g" d="M322 382.5L343.6 378.5L330 383.7L308.4 387.6Z"/>
<path class="r" d="M378.9 402.6L400.6 405.8L387 410.9L365.3 407.7Z"/>
<path class="r" d="M620.5 402.8L642.2 406L628.5 411.1L606.9 407.9Z"/>
<path class="y" d="M528.2 411.6L549.9 409.5L536.2 422L514.6 423.6Z"/>
<path class="y" d="M216.1 473.8L237.8 474.9L224.1 481.9L202.4 480.7Z"/>
<path class="r" d="M286.7 403.2L308.4 406.4L294.7 411.5L273 408.3Z"/>
<path class="y" d="M308.4 462L330 462.6L316.4 470.3L294.7 469.6Z"/>
<path class="r" d="M528.2 403.3L549.9 406.6L536.2 411.7L514.6 408.5Z"/>
<path class="g" d="M414.2 358.5L435.9 352.6L422.3 357.7L400.6 363.6Z"/>
<path class="g" d="M541.8 313.9L563.5 303.8L549.9 308.9L528.2 319Z"/>
<path class="r" d="M769.7 403.5L791.4 406.7L777.8 411.9L756.1 408.6Z"/>
<path class="y" d="M400.6 446.4L422.3 446.3L408.7 455.3L387 455.2Z"/>
<path class="g" d="M740 199.2L761.7 174.6L748 179.7L726.4 204.3Z"/>
<path class="y" d="M691.1 308.7L712.8 298L699.1 329.4L677.5 337.6Z"/>
<path class="y" d="M655.8 344.9L677.5 337.6L663.8 361L642.2 366.7Z"/>
<path class="r" d="M435.9 403.9L457.6 407.1L444 412.3L422.3 409Z"/>
<path class="r" d="M677.5 404.1L699.1 407.3L685.5 412.4L663.8 409.2Z"/>
<path class="g" d="M286.7 391.1L308.4 387.6L294.7 392.8L273 396.2Z"/>
<path class="y" d="M492.9 424.9L514.6 423.6L500.9 434.7L479.3 435.6Z"/>
<path class="g" d="M704.7 225.2L726.4 204.3L712.8 209.4L691.1 230.3Z"/>
<path class="y" d="M620.5 371.7L642.2 366.7L628.5 385.2L606.9 389.1Z"/>
<path class="r" d="M343.6 404.5L365.3 407.7L351.7 412.8L330 409.6Z"/>
<path class="y" d="M726.4 256.8L748 240L734.4 285.7L712.8 298Z"/>
<path class="g" d="M506.5 327.8L528.2 319L514.6 324.1L492.9 332.9Z"/>
<path class="r" d="M585.2 404.7L606.9 407.9L593.2 413L571.5 409.8Z"/>
<path class="g" d="M378.9 368.9L400.6 363.6L387 368.8L365.3 374Z"/>
<path class="g" d="M669.4 248.1L691.1 230.3L677.5 235.4L655.8 253.3Z"/>
<path class="y" d="M273 468.7L294.7 469.6L281.1 476.9L259.4 476Z"/>
<path class="y" d="M365.3 454.9L387 455.2L373.4 463.5L351.7 463.1Z"/>
<path class="r" d="M251.4 405.1L273 408.3L259.4 413.4L237.8 410.2Z"/>
<path class="r" d="M492.9 405.2L514.6 408.5L500.9 413.6L479.3 410.4Z"/>
<path class="y" d="M585.2 392.6L606.9 389.1L593.2 404.4L571.5 407.1Z"/>
<path class="r" d="M734.4 405.4L756.1 408.6L742.5 413.8L720.8 410.5Z"/>
<path class="y" d="M457.6 436.4L479.3 435.6L465.7 445.6L444 446.1Z"/>
<path class="g" d="M634.1 268.7L655.8 253.3L642.2 258.4L620.5 273.8Z"/>
<path class="g" d="M251.4 399.2L273 396.2L259.4 401.4L237.8 404.4Z"/>
<path class="r n" d="M561.4 408.3L571.5 409.8L567 411.5Z"/><path class="e r" d="M561.4 408.3L571.5 409.8M571.5 409.8L567 411.5"/>
<path class="y n" d="M561.4 408.3L571.5 407.1L567 411.5Z"/><path class="e y" d="M561.4 408.3L571.5 407.1M571.5 407.1L567 411.5"/>
<path class="r" d="M400.6 405.8L422.3 409L408.7 414.2L387 410.9Z"/>
<path class="g" d="M471.2 340.7L492.9 332.9L479.3 338.1L457.6 345.8Z"/>
<path class="r" d="M642.2 406L663.8 409.2L650.2 414.3L628.5 411.1Z"/>
<path class="y n" d="M549.9 409.5L561.4 408.3L567 411.5L557.9 420.2L536.2 422Z"/><path class="e y" d="M549.9 409.5L561.4 408.3M567 411.5L557.9 420.2M557.9 420.2L536.2 422M536.2 422L549.9 409.5"/>
<path class="g" d="M343.6 378.5L365.3 374L351.7 379.1L330 383.7Z"/>
<path class="r n" d="M549.9 406.6L561.4 408.3L567 411.5L557.9 414.9L536.2 411.7Z"/><path class="e r" d="M549.9 406.6L561.4 408.3M567 411.5L557.9 414.9M557.9 414.9L536.2 411.7M536.2 411.7L549.9 406.6"/>
<path class="r" d="M308.4 406.4L330 409.6L316.4 414.7L294.7 411.5Z"/>
<path class="g" d="M598.8 287.1L620.5 273.8L606.9 278.9L585.2 292.2Z"/>
<path class="y" d="M237.8 474.9L259.4 476L245.8 483.1L224.1 481.9Z"/>
<path class="y" d="M330 462.6L351.7 463.1L338.1 471L316.4 470.3Z"/>
<path class="r" d="M791.4 406.7L813.1 410L799.5 415.1L777.8 411.9Z"/>
<path class="y" d="M761.7 174.6L783.4 145.4L769.7 220.3L748 240Z"/>
<path class="y" d="M422.3 446.3L444 446.1L430.4 455.2L408.7 455.3Z"/>
<path class="r" d="M216.1 407L237.8 410.2L224.1 415.3L202.4 412.1Z"/>
<path class="r" d="M457.6 407.1L479.3 410.4L465.7 415.5L444 412.3Z"/>
<path class="g" d="M435.9 352.6L457.6 345.8L444 350.9L422.3 357.7Z"/>
<path class="g" d="M216.1 407L237.8 404.4L224.1 409.5L202.4 412.1Z"/>
<path class="r" d="M699.1 407.3L720.8 410.5L707.2 415.7L685.5 412.4Z"/>
<path class="g" d="M563.5 303.8L585.2 292.2L571.5 297.3L549.9 308.9Z"/>
<path class="y" d="M514.6 423.6L536.2 422L522.6 433.5L500.9 434.7Z"/>
<path class="y" d="M677.5 337.6L699.1 329.4L685.5 354.5L663.8 361Z"/>
<path class="g" d="M308.4 387.6L330 383.7L316.4 388.8L294.7 392.8Z"/>
<path class="r" d="M365.3 407.7L387 410.9L373.4 416.1L351.7 412.8Z"/>
<path class="y" d="M712.8 298L734.4 285.7L720.8 320L699.1 329.4Z"/>
<path class="r" d="M606.9 407.9L628.5 411.1L614.9 416.2L593.2 413Z"/>
<path class="y" d="M642.2 366.7L663.8 361L650.2 380.6L628.5 385.2Z"/>
<path class="y" d="M202.4 480.7L224.1 481.9L210.5 488.8L188.8 487.5Z"/>
<path class="y" d="M294.7 469.6L316.4 470.3L302.8 477.8L281.1 476.9Z"/>
<path class="r" d="M273 408.3L294.7 411.5L281.1 416.6L259.4 413.4Z"/>
<path class="y" d="M387 455.2L408.7 455.3L395.1 463.8L373.4 463.5Z"/>
<path class="r" d="M514.6 408.5L536.2 411.7L522.6 416.8L500.9 413.6Z"/>
<path class="g" d="M400.6 363.6L422.3 357.7L408.7 362.8L387 368.8Z"/>
<path class="g" d="M528.2 319L549.9 308.9L536.2 314L514.6 324.1Z"/>
<path class="r" d="M756.1 408.6L777.8 411.9L764.2 417L742.5 413.8Z"/>
<path class="g" d="M761.7 174.6L783.4 145.4L769.7 150.5L748 179.7Z"/>
<path class="y" d="M606.9 389.1L628.5 385.2L614.9 401.2L593.2 404.4Z"/>
<path class="y" d="M748 240L769.7 220.3L756.1 271.5L734.4 285.7Z"/>
<path class="g" d="M726.4 204.3L748 179.7L734.4 184.8L712.8 209.4Z"/>
<path class="y" d="M479.3 435.6L500.9 434.7L487.3 444.9L465.7 445.6Z"/>
<path class="r" d="M422.3 409L444 412.3L430.4 417.4L408.7 414.2Z"/>
<path class="r" d="M663.8 409.2L685.5 412.4L671.9 417.6L650.2 414.3Z"/>
<path class="g" d="M273 396.2L294.7 392.8L281.1 397.9L259.4 401.4Z"/>
<path class="g" d="M691.1 230.3L712.8 209.4L699.1 214.5L677.5 235.4Z"/>
<path class="r" d="M330 409.6L351.7 412.8L338.1 418L316.4 414.7Z"/>
<path class="g" d="M492.9 332.9L514.6 324.1L500.9 329.2L479.3 338.1Z"/>
<path class="y" d="M259.4 476L281.1 476.9L267.5 484.1L245.8 483.1Z"/>
<path class="g" d="M365.3 374L387 368.8L373.4 373.9L351.7 379.1Z"/>
<path class="g" d="M655.8 253.3L677.5 235.4L663.8 240.5L642.2 258.4Z"/>
<path class="r n" d="M571.5 409.8L593.2 413L579.6 418.1L578.8 418L567 411.5Z"/><path class="e r" d="M571.5 409.8L593.2 413M593.2 413L579.6 418.1M579.6 418.1L578.8 418M567 411.5L571.5 409.8"/>
<path class="y" d="M351.7 463.1L373.4 463.5L359.8 471.5L338.1 471Z"/>
<path class="y n" d="M571.5 407.1L593.2 404.4L579.6 417.9L578.8 418L567 411.5Z"/><path class="e y" d="M571.5 407.1L593.2 404.4M593.2 404.4L579.6 417.9M579.6 417.9L578.8 418M567 411.5L571.5 407.1"/>
<path class="r" d="M237.8 410.2L259.4 413.4L245.8 418.5L224.1 415.3Z"/>
<path class="y" d="M444 446.1L465.7 445.6L452 454.9L430.4 455.2Z"/>
<path class="r" d="M479.3 410.4L500.9 413.6L487.3 418.7L465.7 415.5Z"/>
<path class="r" d="M720.8 410.5L742.5 413.8L728.9 418.9L707.2 415.7Z"/>
<path class="y n" d="M578.8 418L557.9 420.2L567 411.5Z"/><path class="e y" d="M578.8 418L557.9 420.2M557.9 420.2L567 411.5"/>
<path class="r n" d="M578.8 418L557.9 414.9L567 411.5Z"/><path class="e r" d="M578.8 418L557.9 414.9M557.9 414.9L567 411.5"/>
<path class="g" d="M620.5 273.8L642.2 258.4L628.5 263.5L606.9 278.9Z"/>
<path class="g" d="M237.8 404.4L259.4 401.4L245.8 406.5L224.1 409.5Z"/>
<path class="r" d="M387 410.9L408.7 414.2L395.1 419.3L373.4 416.1Z"/>
<path class="g" d="M457.6 345.8L479.3 338.1L465.7 343.2L444 350.9Z"/>
<path class="y" d="M536.2 422L557.9 420.2L544.3 432L522.6 433.5Z"/>
<path class="r" d="M628.5 411.1L650.2 414.3L636.6 419.5L614.9 416.2Z"/>
<path class="g" d="M330 383.7L351.7 379.1L338.1 384.2L316.4 388.8Z"/>
<path class="y" d="M699.1 329.4L720.8 320L707.2 347.1L685.5 354.5Z"/>
<path class="r" d="M294.7 411.5L316.4 414.7L302.8 419.9L281.1 416.6Z"/>
<path class="y" d="M224.1 481.9L245.8 483.1L232.2 490L210.5 488.8Z"/>
<path class="g" d="M585.2 292.2L606.9 278.9L593.2 284L571.5 297.3Z"/>
<path class="y" d="M316.4 470.3L338.1 471L324.4 478.5L302.8 477.8Z"/>
<path class="r" d="M536.2 411.7L557.9 414.9L544.3 420L522.6 416.8Z"/>
<path class="y" d="M783.4 145.4L805 110.3L791.4 197.3L769.7 220.3Z"/>
<path class="y" d="M663.8 361L685.5 354.5L671.9 375.4L650.2 380.6Z"/>
<path class="y" d="M408.7 455.3L430.4 455.2L416.7 463.9L395.1 463.8Z"/>
<path class="r" d="M777.8 411.9L799.5 415.1L785.8 420.2L764.2 417Z"/>
<path class="y" d="M734.4 285.7L756.1 271.5L742.5 309.2L720.8 320Z"/>
<path class="r" d="M202.4 412.1L224.1 415.3L210.5 420.4L188.8 417.2Z"/>
<path class="r" d="M444 412.3L465.7 415.5L452 420.6L430.4 417.4Z"/>
<path class="g" d="M422.3 357.7L444 350.9L430.4 356L408.7 362.8Z"/>
<path class="g" d="M202.4 412.1L224.1 409.5L210.5 414.6L188.8 417.2Z"/>
<path class="y" d="M500.9 434.7L522.6 433.5L509 444L487.3 444.9Z"/>
<path class="r" d="M685.5 412.4L707.2 415.7L693.5 420.8L671.9 417.6Z"/>
<path class="y" d="M628.5 385.2L650.2 380.6L636.6 397.5L614.9 401.2Z"/>
<path class="g" d="M549.9 308.9L571.5 297.3L557.9 302.5L536.2 314Z"/>
<path class="g" d="M294.7 392.8L316.4 388.8L302.8 393.9L281.1 397.9Z"/>
<path class="r" d="M351.7 412.8L373.4 416.1L359.8 421.2L338.1 418Z"/>
<path class="r" d="M593.2 413L614.9 416.2L601.3 421.4L579.6 418.1Z"/>
<path class="y" d="M281.1 476.9L302.8 477.8L289.1 485L267.5 484.1Z"/>
<path class="y" d="M188.8 487.5L210.5 488.8L196.9 495.4L175.2 494.1Z"/>
<path class="y" d="M769.7 220.3L791.4 197.3L777.8 255L756.1 271.5Z"/>
<path class="y" d="M373.4 463.5L395.1 463.8L381.4 471.9L359.8 471.5Z"/>
<path class="y" d="M593.2 404.4L614.9 401.2L601.3 415.3L579.6 417.9Z"/>
<path class="r" d="M259.4 413.4L281.1 416.6L267.5 421.8L245.8 418.5Z"/>
<path class="r" d="M500.9 413.6L522.6 416.8L509 421.9L487.3 418.7Z"/>
<path class="g" d="M387 368.8L408.7 362.8L395.1 368L373.4 373.9Z"/>
<path class="g" d="M514.6 324.1L536.2 314L522.6 319.2L500.9 329.2Z"/>
<path class="r" d="M742.5 413.8L764.2 417L750.5 422.1L728.9 418.9Z"/>
<path class="y" d="M465.7 445.6L487.3 444.9L473.7 454.5L452 454.9Z"/>
<path class="g" d="M748 179.7L769.7 150.5L756.1 155.6L734.4 184.8Z"/>
<path class="g" d="M783.4 145.4L805 110.3L791.4 115.4L769.7 150.5Z"/>
<path class="r n" d="M578.8 418L579.6 418.1L579.2 418.3Z"/><path class="e r" d="M578.8 418L579.6 418.1M579.6 418.1L579.2 418.3"/>
<path class="y n" d="M578.8 418L579.6 417.9L579.2 418.3Z"/><path class="e y" d="M578.8 418L579.6 417.9M579.6 417.9L579.2 418.3"/>
<path class="g" d="M712.8 209.4L734.4 184.8L720.8 190L699.1 214.5Z"/>
<path class="r" d="M408.7 414.2L430.4 417.4L416.7 422.5L395.1 419.3Z"/>
<path class="r" d="M650.2 414.3L671.9 417.6L658.2 422.7L636.6 419.5Z"/>
<path class="g" d="M259.4 401.4L281.1 397.9L267.5 403L245.8 406.5Z"/>
<path class="g" d="M677.5 235.4L699.1 214.5L685.5 219.7L663.8 240.5Z"/>
<path class="y n" d="M557.9 420.2L578.8 418L579.2 418.3L566 430.2L544.3 432Z"/><path class="e y" d="M557.9 420.2L578.8 418M579.2 418.3L566 430.2M566 430.2L544.3 432M544.3 432L557.9 420.2"/>
<path class="r n" d="M557.9 414.9L578.8 418L579.2 418.3L566 423.3L544.3 420Z"/><path class="e r" d="M557.9 414.9L578.8 418M579.2 418.3L566 423.3M566 423.3L544.3 420M544.3 420L557.9 414.9"/>
<path class="r" d="M316.4 414.7L338.1 418L324.4 423.1L302.8 419.9Z"/>
<path class="g" d="M479.3 338.1L500.9 329.2L487.3 334.4L465.7 343.2Z"/>
<path class="y" d="M245.8 483.1L267.5 484.1L253.9 491.1L232.2 490Z"/>
<path class="y" d="M338.1 471L359.8 471.5L346.1 479.2L324.4 478.5Z"/>
<path class="g" d="M351.7 379.1L373.4 373.9L359.8 379L338.1 384.2Z"/>
<path class="g" d="M642.2 258.4L663.8 240.5L650.2 245.7L628.5 263.5Z"/>
<path class="y" d="M430.4 455.2L452 454.9L438.4 463.8L416.7 463.9Z"/>
<path class="r" d="M224.1 415.3L245.8 418.5L232.2 423.7L210.5 420.4Z"/>
<path class="y" d="M720.8 320L742.5 309.2L728.9 338.7L707.2 347.1Z"/>
<path class="r" d="M465.7 415.5L487.3 418.7L473.7 423.8L452 420.6Z"/>
<path class="y" d="M685.5 354.5L707.2 347.1L693.5 369.5L671.9 375.4Z"/>
<path class="r" d="M707.2 415.7L728.9 418.9L715.2 424L693.5 420.8Z"/>
<path class="g" d="M606.9 278.9L628.5 263.5L614.9 268.6L593.2 284Z"/>
<path class="y" d="M522.6 433.5L544.3 432L530.7 442.9L509 444Z"/>
<path class="g" d="M224.1 409.5L245.8 406.5L232.2 411.6L210.5 414.6Z"/>
<path class="y" d="M756.1 271.5L777.8 255L764.2 296.9L742.5 309.2Z"/>
<path class="r" d="M373.4 416.1L395.1 419.3L381.4 424.4L359.8 421.2Z"/>
<path class="g" d="M444 350.9L465.7 343.2L452 348.3L430.4 356Z"/>
<path class="y" d="M650.2 380.6L671.9 375.4L658.2 393.2L636.6 397.5Z"/>
<path class="r" d="M614.9 416.2L636.6 419.5L622.9 424.6L601.3 421.4Z"/>
<path class="g" d="M316.4 388.8L338.1 384.2L324.4 389.4L302.8 393.9Z"/>
<path class="y" d="M210.5 488.8L232.2 490L218.6 496.7L196.9 495.4Z"/>
<path class="y" d="M302.8 477.8L324.4 478.5L310.8 485.9L289.1 485Z"/>
<path class="r n" d="M579.6 418.1L601.3 421.4L590.5 425.4L579.2 418.3Z"/><path class="e r" d="M579.6 418.1L601.3 421.4M601.3 421.4L590.5 425.4M579.2 418.3L579.6 418.1"/>
<path class="r" d="M281.1 416.6L302.8 419.9L289.1 425L267.5 421.8Z"/>
<path class="g" d="M571.5 297.3L593.2 284L579.6 289.2L557.9 302.5Z"/>
<path class="y n" d="M579.6 417.9L601.3 415.3L590.5 425.4L579.2 418.3Z"/><path class="e y" d="M579.6 417.9L601.3 415.3M601.3 415.3L590.5 425.4M579.2 418.3L579.6 417.9"/>
<path class="y" d="M395.1 463.8L416.7 463.9L403.1 472.1L381.4 471.9Z"/>
<path class="r" d="M522.6 416.8L544.3 420L530.7 425.2L509 421.9Z"/>
<path class="r" d="M764.2 417L785.8 420.2L772.2 425.3L750.5 422.1Z"/>
<path class="y" d="M614.9 401.2L636.6 397.5L622.9 412.3L601.3 415.3Z"/>
<path class="y" d="M805 110.3L826.7 67.5L813.1 169.9L791.4 197.3Z"/>
<path class="y" d="M487.3 444.9L509 444L495.4 453.9L473.7 454.5Z"/>
<path class="r" d="M188.8 417.2L210.5 420.4L196.9 425.6L175.2 422.3Z"/>
<path class="r" d="M430.4 417.4L452 420.6L438.4 425.7L416.7 422.5Z"/>
<path class="g" d="M408.7 362.8L430.4 356L416.7 361.2L395.1 368Z"/>
<path class="g" d="M188.8 417.2L210.5 414.6L196.9 419.7L175.2 422.3Z"/>
<path class="r" d="M671.9 417.6L693.5 420.8L679.9 425.9L658.2 422.7Z"/>
<path class="g" d="M536.2 314L557.9 302.5L544.3 307.6L522.6 319.2Z"/>
<path class="g" d="M281.1 397.9L302.8 393.9L289.1 399L267.5 403Z"/>
<path class="y" d="M791.4 197.3L813.1 169.9L799.5 235.9L777.8 255Z"/>
<path class="r" d="M338.1 418L359.8 421.2L346.1 426.3L324.4 423.1Z"/>
<path class="y" d="M267.5 484.1L289.1 485L275.5 492.1L253.9 491.1Z"/>
<path class="y" d="M175.2 494.1L196.9 495.4L183.2 502L161.6 500.6Z"/>
<path class="y" d="M359.8 471.5L381.4 471.9L367.8 479.7L346.1 479.2Z"/>
<path class="r" d="M245.8 418.5L267.5 421.8L253.9 426.9L232.2 423.7Z"/>
<path class="y" d="M452 454.9L473.7 454.5L460.1 463.6L438.4 463.8Z"/>
<path class="r" d="M487.3 418.7L509 421.9L495.4 427.1L473.7 423.8Z"/>
<path class="g" d="M373.4 373.9L395.1 368L381.4 373.1L359.8 379Z"/>
<path class="g" d="M500.9 329.2L522.6 319.2L509 324.3L487.3 334.4Z"/>
<path class="r" d="M728.9 418.9L750.5 422.1L736.9 427.2L715.2 424Z"/>
<path class="g" d="M734.4 184.8L756.1 155.6L742.5 160.8L720.8 190Z"/>
<path class="y n" d="M590.5 425.4L587.7 428.1L566 430.2L579.2 418.3Z"/><path class="e y" d="M590.5 425.4L587.7 428.1M587.7 428.1L566 430.2M566 430.2L579.2 418.3"/>
<path class="g" d="M769.7 150.5L791.4 115.4L777.8 120.5L756.1 155.6Z"/>
<path class="g" d="M699.1 214.5L720.8 190L707.2 195.1L685.5 219.7Z"/>
<path class="r n" d="M590.5 425.4L587.7 426.5L566 423.3L579.2 418.3Z"/><path class="e r" d="M590.5 425.4L587.7 426.5M587.7 426.5L566 423.3M566 423.3L579.2 418.3"/>
<path class="r" d="M395.1 419.3L416.7 422.5L403.1 427.6L381.4 424.4Z"/>
<path class="y" d="M544.3 432L566 430.2L552.4 441.4L530.7 442.9Z"/>
<path class="y" d="M707.2 347.1L728.9 338.7L715.2 362.7L693.5 369.5Z"/>
<path class="y" d="M742.5 309.2L764.2 296.9L750.5 329.1L728.9 338.7Z"/>
<path class="r" d="M636.6 419.5L658.2 422.7L644.6 427.8L622.9 424.6Z"/>
<path class="g" d="M245.8 406.5L267.5 403L253.9 408.1L232.2 411.6Z"/>
<path class="g" d="M663.8 240.5L685.5 219.7L671.9 224.8L650.2 245.7Z"/>
<path class="g" d="M805 110.3L826.7 67.5L813.1 72.6L791.4 115.4Z"/>
<path class="y" d="M671.9 375.4L693.5 369.5L679.9 388.4L658.2 393.2Z"/>
<path class="r" d="M302.8 419.9L324.4 423.1L310.8 428.2L289.1 425Z"/>
<path class="y" d="M232.2 490L253.9 491.1L240.2 497.9L218.6 496.7Z"/>
<path class="y" d="M324.4 478.5L346.1 479.2L332.5 486.6L310.8 485.9Z"/>
<path class="g" d="M465.7 343.2L487.3 334.4L473.7 339.5L452 348.3Z"/>
<path class="r" d="M544.3 420L566 423.3L552.4 428.4L530.7 425.2Z"/>
<path class="g" d="M338.1 384.2L359.8 379L346.1 384.1L324.4 389.4Z"/>
<path class="y" d="M416.7 463.9L438.4 463.8L424.8 472.2L403.1 472.1Z"/>
<path class="g" d="M628.5 263.5L650.2 245.7L636.6 250.8L614.9 268.6Z"/>
<path class="y" d="M777.8 255L799.5 235.9L785.8 282.6L764.2 296.9Z"/>
<path class="r" d="M210.5 420.4L232.2 423.7L218.6 428.8L196.9 425.6Z"/>
<path class="r" d="M452 420.6L473.7 423.8L460.1 429L438.4 425.7Z"/>
<path class="y" d="M636.6 397.5L658.2 393.2L644.6 408.8L622.9 412.3Z"/>
<path class="y" d="M509 444L530.7 442.9L517 453L495.4 453.9Z"/>
<path class="r" d="M693.5 420.8L715.2 424L701.6 429.1L679.9 425.9Z"/>
<path class="g" d="M593.2 284L614.9 268.6L601.3 273.8L579.6 289.2Z"/>
<path class="g" d="M210.5 414.6L232.2 411.6L218.6 416.7L196.9 419.7Z"/>
<path class="r" d="M359.8 421.2L381.4 424.4L367.8 429.5L346.1 426.3Z"/>
<path class="g" d="M430.4 356L452 348.3L438.4 353.4L416.7 361.2Z"/>
<path class="r n" d="M601.3 421.4L622.9 424.6L609.3 429.7L593.7 427.4L590.5 425.4Z"/><path class="e r" d="M601.3 421.4L622.9 424.6M622.9 424.6L609.3 429.7M609.3 429.7L593.7 427.4M590.5 425.4L601.3 421.4"/>
<path class="y" d="M289.1 485L310.8 485.9L297.2 493L275.5 492.1Z"/>
<path class="g" d="M302.8 393.9L324.4 389.4L310.8 394.5L289.1 399Z"/>
<path class="y" d="M196.9 495.4L218.6 496.7L204.9 503.3L183.2 502Z"/>
<path class="y" d="M381.4 471.9L403.1 472.1L389.5 480.1L367.8 479.7Z"/>
<path class="y n" d="M601.3 415.3L622.9 412.3L609.3 425.6L593.7 427.4L590.5 425.4Z"/><path class="e y" d="M601.3 415.3L622.9 412.3M622.9 412.3L609.3 425.6M609.3 425.6L593.7 427.4M590.5 425.4L601.3 415.3"/>
<path class="r" d="M267.5 421.8L289.1 425L275.5 430.1L253.9 426.9Z"/>
<path class="g" d="M557.9 302.5L579.6 289.2L566 294.3L544.3 307.6Z"/>
<path class="r" d="M509 421.9L530.7 425.2L517 430.3L495.4 427.1Z"/>
<path class="y" d="M473.7 454.5L495.4 453.9L481.8 463.1L460.1 463.6Z"/>
<path class="r" d="M750.5 422.1L772.2 425.3L758.6 430.5L736.9 427.2Z"/>
<path class="y n" d="M593.7 427.4L587.7 428.1L590.5 425.4Z"/><path class="e y" d="M593.7 427.4L587.7 428.1M587.7 428.1L590.5 425.4"/>
<path class="r n" d="M593.7 427.4L587.7 426.5L590.5 425.4Z"/><path class="e r" d="M593.7 427.4L587.7 426.5M587.7 426.5L590.5 425.4"/>
<path class="r" d="M175.2 422.3L196.9 425.6L183.2 430.7L161.6 427.5Z"/>
<path class="r" d="M416.7 422.5L438.4 425.7L424.8 430.9L403.1 427.6Z"/>
<path class="g" d="M395.1 368L416.7 361.2L403.1 366.3L381.4 373.1Z"/>
<path class="g" d="M175.2 422.3L196.9 419.7L183.2 424.9L161.6 427.5Z"/>
<path class="r" d="M658.2 422.7L679.9 425.9L666.3 431L644.6 427.8Z"/>
<path class="g" d="M522.6 319.2L544.3 307.6L530.7 312.7L509 324.3Z"/>
<path class="y" d="M566 430.2L587.7 428.1L574 439.7L552.4 441.4Z"/>
<path class="g" d="M267.5 403L289.1 399L275.5 404.2L253.9 408.1Z"/>
<path class="r" d="M324.4 423.1L346.1 426.3L332.5 431.4L310.8 428.2Z"/>
<path class="y" d="M253.9 491.1L275.5 492.1L261.9 499L240.2 497.9Z"/>
<path class="r" d="M566 423.3L587.7 426.5L574 431.6L552.4 428.4Z"/>
<path class="y" d="M728.9 338.7L750.5 329.1L736.9 354.9L715.2 362.7Z"/>
<path class="y" d="M346.1 479.2L367.8 479.7L354.2 487.2L332.5 486.6Z"/>
<path class="y" d="M161.6 500.6L183.2 502L169.6 508.4L147.9 507Z"/>
<path class="y" d="M764.2 296.9L785.8 282.6L772.2 318L750.5 329.1Z"/>
<path class="y" d="M438.4 463.8L460.1 463.6L446.4 472.2L424.8 472.2Z"/>
<path class="y" d="M693.5 369.5L715.2 362.7L701.6 382.8L679.9 388.4Z"/>
<path class="r" d="M232.2 423.7L253.9 426.9L240.2 432L218.6 428.8Z"/>
<path class="r" d="M473.7 423.8L495.4 427.1L481.8 432.2L460.1 429Z"/>
<path class="g" d="M359.8 379L381.4 373.1L367.8 378.2L346.1 384.1Z"/>
<path class="g" d="M487.3 334.4L509 324.3L495.4 329.4L473.7 339.5Z"/>
<path class="r" d="M715.2 424L736.9 427.2L723.3 432.4L701.6 429.1Z"/>
<path class="g" d="M720.8 190L742.5 160.8L728.9 165.9L707.2 195.1Z"/>
<path class="y" d="M530.7 442.9L552.4 441.4L538.7 451.9L517 453Z"/>
<path class="g" d="M756.1 155.6L777.8 120.5L764.2 125.6L742.5 160.8Z"/>
<path class="g" d="M685.5 219.7L707.2 195.1L693.5 200.2L671.9 224.8Z"/>
<path class="y" d="M658.2 393.2L679.9 388.4L666.3 404.8L644.6 408.8Z"/>
<path class="r" d="M381.4 424.4L403.1 427.6L389.5 432.8L367.8 429.5Z"/>
<path class="r" d="M622.9 424.6L644.6 427.8L631 432.9L609.3 429.7Z"/>
<path class="g" d="M232.2 411.6L253.9 408.1L240.2 413.3L218.6 416.7Z"/>
<path class="g" d="M650.2 245.7L671.9 224.8L658.2 229.9L636.6 250.8Z"/>
<path class="g" d="M791.4 115.4L813.1 72.6L799.5 77.8L777.8 120.5Z"/>
<path class="y" d="M310.8 485.9L332.5 486.6L318.9 493.8L297.2 493Z"/>
<path class="y" d="M218.6 496.7L240.2 497.9L226.6 504.5L204.9 503.3Z"/>
<path class="r" d="M289.1 425L310.8 428.2L297.2 433.3L275.5 430.1Z"/>
<path class="g" d="M452 348.3L473.7 339.5L460.1 344.6L438.4 353.4Z"/>
<path class="y" d="M403.1 472.1L424.8 472.2L411.2 480.3L389.5 480.1Z"/>
<path class="r" d="M530.7 425.2L552.4 428.4L538.7 433.5L517 430.3Z"/>
<path class="y" d="M622.9 412.3L644.6 408.8L631 422.7L609.3 425.6Z"/>
<path class="g" d="M324.4 389.4L346.1 384.1L332.5 389.3L310.8 394.5Z"/>
<path class="g" d="M614.9 268.6L636.6 250.8L622.9 255.9L601.3 273.8Z"/>
<path class="y" d="M495.4 453.9L517 453L503.4 462.5L481.8 463.1Z"/>
<path class="r" d="M196.9 425.6L218.6 428.8L204.9 433.9L183.2 430.7Z"/>
<path class="r" d="M438.4 425.7L460.1 429L446.4 434.1L424.8 430.9Z"/>
<path class="r n" d="M593.7 427.4L609.3 429.7L601.3 432.7Z"/><path class="e r" d="M593.7 427.4L609.3 429.7M609.3 429.7L601.3 432.7"/>
<path class="y n" d="M593.7 427.4L609.3 425.6L601.3 432.7Z"/><path class="e y" d="M593.7 427.4L609.3 425.6M609.3 425.6L601.3 432.7"/>
<path class="r" d="M679.9 425.9L701.6 429.1L688 434.3L666.3 431Z"/>
<path class="g" d="M579.6 289.2L601.3 273.8L587.7 278.9L566 294.3Z"/>
<path class="g" d="M196.9 419.7L218.6 416.7L204.9 421.9L183.2 424.9Z"/>
<path class="y n" d="M587.7 428.1L593.7 427.4L601.3 432.7L595.7 437.7L574 439.7Z"/><path class="e y" d="M587.7 428.1L593.7 427.4M601.3 432.7L595.7 437.7M595.7 437.7L574 439.7M574 439.7L587.7 428.1"/>
<path class="r" d="M346.1 426.3L367.8 429.5L354.2 434.7L332.5 431.4Z"/>
<path class="g" d="M416.7 361.2L438.4 353.4L424.8 358.6L403.1 366.3Z"/>
<path class="r n" d="M587.7 426.5L593.7 427.4L601.3 432.7L595.7 434.8L574 431.6Z"/><path class="e r" d="M587.7 426.5L593.7 427.4M601.3 432.7L595.7 434.8M595.7 434.8L574 431.6M574 431.6L587.7 426.5"/>
<path class="y" d="M275.5 492.1L297.2 493L283.6 500L261.9 499Z"/>
<path class="y" d="M183.2 502L204.9 503.3L191.3 509.8L169.6 508.4Z"/>
<path class="y" d="M367.8 479.7L389.5 480.1L375.9 487.7L354.2 487.2Z"/>
<path class="g" d="M289.1 399L310.8 394.5L297.2 399.6L275.5 404.2Z"/>
<path class="r" d="M253.9 426.9L275.5 430.1L261.9 435.2L240.2 432Z"/>
<path class="g" d="M544.3 307.6L566 294.3L552.4 299.4L530.7 312.7Z"/>
<path class="y" d="M460.1 463.6L481.8 463.1L468.1 471.9L446.4 472.2Z"/>
<path class="r" d="M495.4 427.1L517 430.3L503.4 435.4L481.8 432.2Z"/>
<path class="y" d="M750.5 329.1L772.2 318L758.6 346.1L736.9 354.9Z"/>
<path class="r" d="M736.9 427.2L758.6 430.5L745 435.6L723.3 432.4Z"/>
<path class="y" d="M715.2 362.7L736.9 354.9L723.3 376.5L701.6 382.8Z"/>
<path class="r" d="M161.6 427.5L183.2 430.7L169.6 435.8L147.9 432.6Z"/>
<path class="y" d="M552.4 441.4L574 439.7L560.4 450.5L538.7 451.9Z"/>
<path class="r" d="M403.1 427.6L424.8 430.9L411.2 436L389.5 432.8Z"/>
<path class="g" d="M381.4 373.1L403.1 366.3L389.5 371.4L367.8 378.2Z"/>
<path class="g" d="M161.6 427.5L183.2 424.9L169.6 430L147.9 432.6Z"/>
<path class="r" d="M644.6 427.8L666.3 431L652.7 436.2L631 432.9Z"/>
<path class="g" d="M509 324.3L530.7 312.7L517 317.8L495.4 329.4Z"/>
<path class="y" d="M679.9 388.4L701.6 382.8L688 400.2L666.3 404.8Z"/>
<path class="g" d="M253.9 408.1L275.5 404.2L261.9 409.3L240.2 413.3Z"/>
<path class="r" d="M310.8 428.2L332.5 431.4L318.9 436.6L297.2 433.3Z"/>
<path class="y" d="M240.2 497.9L261.9 499L248.3 505.7L226.6 504.5Z"/>
<path class="y" d="M332.5 486.6L354.2 487.2L340.6 494.6L318.9 493.8Z"/>
<path class="r" d="M552.4 428.4L574 431.6L560.4 436.7L538.7 433.5Z"/>
<path class="y" d="M147.9 507L169.6 508.4L156 514.8L134.3 513.3Z"/>
<path class="y" d="M424.8 472.2L446.4 472.2L432.8 480.4L411.2 480.3Z"/>
<path class="r" d="M218.6 428.8L240.2 432L226.6 437.1L204.9 433.9Z"/>
<path class="y" d="M644.6 408.8L666.3 404.8L652.7 419.4L631 422.7Z"/>
<path class="r" d="M460.1 429L481.8 432.2L468.1 437.3L446.4 434.1Z"/>
<path class="y" d="M517 453L538.7 451.9L525.1 461.7L503.4 462.5Z"/>
<path class="g" d="M346.1 384.1L367.8 378.2L354.2 383.3L332.5 389.3Z"/>
<path class="g" d="M473.7 339.5L495.4 329.4L481.8 334.5L460.1 344.6Z"/>
<path class="r" d="M701.6 429.1L723.3 432.4L709.7 437.5L688 434.3Z"/>
<path class="g" d="M707.2 195.1L728.9 165.9L715.2 171L693.5 200.2Z"/>
<path class="g" d="M742.5 160.8L764.2 125.6L750.5 130.8L728.9 165.9Z"/>
<path class="g" d="M671.9 224.8L693.5 200.2L679.9 205.3L658.2 229.9Z"/>
<path class="r" d="M367.8 429.5L389.5 432.8L375.9 437.9L354.2 434.7Z"/>
<path class="g" d="M218.6 416.7L240.2 413.3L226.6 418.4L204.9 421.9Z"/>
<path class="r n" d="M609.3 429.7L631 432.9L617.4 438.1L606.7 436.5L601.3 432.7Z"/><path class="e r" d="M609.3 429.7L631 432.9M631 432.9L617.4 438.1M617.4 438.1L606.7 436.5M601.3 432.7L609.3 429.7"/>
<path class="g" d="M636.6 250.8L658.2 229.9L644.6 235L622.9 255.9Z"/>
<path class="g" d="M777.8 120.5L799.5 77.8L785.8 82.9L764.2 125.6Z"/>
<path class="y" d="M297.2 493L318.9 493.8L305.2 500.9L283.6 500Z"/>
<path class="y" d="M204.9 503.3L226.6 504.5L213 511.1L191.3 509.8Z"/>
<path class="y n" d="M609.3 425.6L631 422.7L617.4 435.3L606.7 436.5L601.3 432.7Z"/><path class="e y" d="M609.3 425.6L631 422.7M631 422.7L617.4 435.3M617.4 435.3L606.7 436.5M601.3 432.7L609.3 425.6"/>
<path class="y" d="M389.5 480.1L411.2 480.3L397.5 488.1L375.9 487.7Z"/>
<path class="r" d="M275.5 430.1L297.2 433.3L283.6 438.5L261.9 435.2Z"/>
<path class="g" d="M438.4 353.4L460.1 344.6L446.4 349.8L424.8 358.6Z"/>
<path class="r" d="M517 430.3L538.7 433.5L525.1 438.6L503.4 435.4Z"/>
<path class="g" d="M310.8 394.5L332.5 389.3L318.9 394.4L297.2 399.6Z"/>
<path class="g" d="M601.3 273.8L622.9 255.9L609.3 261L587.7 278.9Z"/>
<path class="y" d="M481.8 463.1L503.4 462.5L489.8 471.5L468.1 471.9Z"/>
<path class="y n" d="M606.7 436.5L595.7 437.7L601.3 432.7Z"/><path class="e y" d="M606.7 436.5L595.7 437.7M595.7 437.7L601.3 432.7"/>
<path class="r n" d="M606.7 436.5L595.7 434.8L601.3 432.7Z"/><path class="e r" d="M606.7 436.5L595.7 434.8M595.7 434.8L601.3 432.7"/>
<path class="r" d="M183.2 430.7L204.9 433.9L191.3 439L169.6 435.8Z"/>
<path class="r" d="M424.8 430.9L446.4 434.1L432.8 439.2L411.2 436Z"/>
<path class="r" d="M666.3 431L688 434.3L674.4 439.4L652.7 436.2Z"/>
<path class="y" d="M574 439.7L595.7 437.7L582.1 448.8L560.4 450.5Z"/>
<path class="g" d="M566 294.3L587.7 278.9L574 284L552.4 299.4Z"/>
<path class="y" d="M736.9 354.9L758.6 346.1L745 369.3L723.3 376.5Z"/>
<path class="g" d="M183.2 424.9L204.9 421.9L191.3 427L169.6 430Z"/>
<path class="r" d="M332.5 431.4L354.2 434.7L340.6 439.8L318.9 436.6Z"/>
<path class="g" d="M403.1 366.3L424.8 358.6L411.2 363.7L389.5 371.4Z"/>
<path class="r" d="M574 431.6L595.7 434.8L582.1 440L560.4 436.7Z"/>
<path class="y" d="M261.9 499L283.6 500L269.9 506.8L248.3 505.7Z"/>
<path class="y" d="M701.6 382.8L723.3 376.5L709.7 395L688 400.2Z"/>
<path class="y" d="M354.2 487.2L375.9 487.7L362.2 495.2L340.6 494.6Z"/>
<path class="y" d="M169.6 508.4L191.3 509.8L177.7 516.2L156 514.8Z"/>
<path class="g" d="M275.5 404.2L297.2 399.6L283.6 404.7L261.9 409.3Z"/>
<path class="y" d="M446.4 472.2L468.1 471.9L454.5 480.3L432.8 480.4Z"/>
<path class="r" d="M240.2 432L261.9 435.2L248.3 440.4L226.6 437.1Z"/>
<path class="g" d="M530.7 312.7L552.4 299.4L538.7 304.5L517 317.8Z"/>
<path class="r" d="M481.8 432.2L503.4 435.4L489.8 440.5L468.1 437.3Z"/>
<path class="r" d="M723.3 432.4L745 435.6L731.3 440.7L709.7 437.5Z"/>
<path class="y" d="M538.7 451.9L560.4 450.5L546.8 460.6L525.1 461.7Z"/>
<path class="y" d="M666.3 404.8L688 400.2L674.4 415.5L652.7 419.4Z"/>
<path class="r" d="M147.9 432.6L169.6 435.8L156 440.9L134.3 437.7Z"/>
<path class="r" d="M389.5 432.8L411.2 436L397.5 441.1L375.9 437.9Z"/>
<path class="g" d="M367.8 378.2L389.5 371.4L375.9 376.5L354.2 383.3Z"/>
<path class="g" d="M147.9 432.6L169.6 430L156 435.1L134.3 437.7Z"/>
<path class="r" d="M631 432.9L652.7 436.2L639 441.3L617.4 438.1Z"/>
<path class="g" d="M495.4 329.4L517 317.8L503.4 323L481.8 334.5Z"/>
<path class="y" d="M318.9 493.8L340.6 494.6L326.9 501.7L305.2 500.9Z"/>
<path class="g" d="M240.2 413.3L261.9 409.3L248.3 414.4L226.6 418.4Z"/>
<path class="y" d="M226.6 504.5L248.3 505.7L234.7 512.3L213 511.1Z"/>
<path class="r" d="M297.2 433.3L318.9 436.6L305.2 441.7L283.6 438.5Z"/>
<path class="y" d="M134.3 513.3L156 514.8L142.4 521L120.7 519.5Z"/>
<path class="y" d="M411.2 480.3L432.8 480.4L419.2 488.3L397.5 488.1Z"/>
<path class="y" d="M631 422.7L652.7 419.4L639 432.5L617.4 435.3Z"/>
<path class="r" d="M538.7 433.5L560.4 436.7L546.8 441.9L525.1 438.6Z"/>
<path class="y" d="M503.4 462.5L525.1 461.7L511.5 470.9L489.8 471.5Z"/>
<path class="r" d="M204.9 433.9L226.6 437.1L213 442.3L191.3 439Z"/>
<path class="r n" d="M606.7 436.5L617.4 438.1L611.5 440.3Z"/><path class="e r" d="M606.7 436.5L617.4 438.1M617.4 438.1L611.5 440.3"/>
<path class="r" d="M446.4 434.1L468.1 437.3L454.5 442.4L432.8 439.2Z"/>
<path class="y n" d="M606.7 436.5L617.4 435.3L611.5 440.3Z"/><path class="e y" d="M606.7 436.5L617.4 435.3M617.4 435.3L611.5 440.3"/>
<path class="g" d="M332.5 389.3L354.2 383.3L340.6 388.5L318.9 394.4Z"/>
<path class="g" d="M460.1 344.6L481.8 334.5L468.1 339.7L446.4 349.8Z"/>
<path class="r" d="M688 434.3L709.7 437.5L696 442.6L674.4 439.4Z"/>
<path class="g" d="M693.5 200.2L715.2 171L701.6 176.1L679.9 205.3Z"/>
<path class="g" d="M728.9 165.9L750.5 130.8L736.9 135.9L715.2 171Z"/>
<path class="g" d="M658.2 229.9L679.9 205.3L666.3 210.5L644.6 235Z"/>
<path class="y n" d="M595.7 437.7L606.7 436.5L611.5 440.3L603.8 446.9L582.1 448.8Z"/><path class="e y" d="M595.7 437.7L606.7 436.5M611.5 440.3L603.8 446.9M603.8 446.9L582.1 448.8M582.1 448.8L595.7 437.7"/>
<path class="r" d="M354.2 434.7L375.9 437.9L362.2 443L340.6 439.8Z"/>
<path class="r n" d="M595.7 434.8L606.7 436.5L611.5 440.3L603.8 443.2L582.1 440Z"/><path class="e r" d="M595.7 434.8L606.7 436.5M611.5 440.3L603.8 443.2M603.8 443.2L582.1 440M582.1 440L595.7 434.8"/>
<path class="g" d="M204.9 421.9L226.6 418.4L213 423.5L191.3 427Z"/>
<path class="g" d="M622.9 255.9L644.6 235L631 240.2L609.3 261Z"/>
<path class="g" d="M764.2 125.6L785.8 82.9L772.2 88L750.5 130.8Z"/>
<path class="y" d="M283.6 500L305.2 500.9L291.6 507.8L269.9 506.8Z"/>
<path class="y" d="M191.3 509.8L213 511.1L199.3 517.5L177.7 516.2Z"/>
<path class="y" d="M375.9 487.7L397.5 488.1L383.9 495.6L362.2 495.2Z"/>
<path class="r" d="M261.9 435.2L283.6 438.5L269.9 443.6L248.3 440.4Z"/>
<path class="y" d="M468.1 471.9L489.8 471.5L476.2 480.1L454.5 480.3Z"/>
<path class="g" d="M424.8 358.6L446.4 349.8L432.8 354.9L411.2 363.7Z"/>
<path class="r" d="M503.4 435.4L525.1 438.6L511.5 443.8L489.8 440.5Z"/>
<path class="y" d="M723.3 376.5L745 369.3L731.3 389L709.7 395Z"/>
<path class="g" d="M297.2 399.6L318.9 394.4L305.2 399.5L283.6 404.7Z"/>
<path class="g" d="M587.7 278.9L609.3 261L595.7 266.2L574 284Z"/>
<path class="r" d="M169.6 435.8L191.3 439L177.7 444.2L156 440.9Z"/>
<path class="y" d="M560.4 450.5L582.1 448.8L568.4 459.2L546.8 460.6Z"/>
<path class="r" d="M411.2 436L432.8 439.2L419.2 444.3L397.5 441.1Z"/>
<path class="y" d="M688 400.2L709.7 395L696 411.2L674.4 415.5Z"/>
<path class="r" d="M652.7 436.2L674.4 439.4L660.7 444.5L639 441.3Z"/>
<path class="g" d="M552.4 299.4L574 284L560.4 289.1L538.7 304.5Z"/>
<path class="g" d="M169.6 430L191.3 427L177.7 432.1L156 435.1Z"/>
<path class="r" d="M318.9 436.6L340.6 439.8L326.9 444.9L305.2 441.7Z"/>
<path class="g" d="M389.5 371.4L411.2 363.7L397.5 368.8L375.9 376.5Z"/>
<path class="y" d="M248.3 505.7L269.9 506.8L256.3 513.4L234.7 512.3Z"/>
<path class="y" d="M340.6 494.6L362.2 495.2L348.6 502.4L326.9 501.7Z"/>
<path class="r" d="M560.4 436.7L582.1 440L568.4 445.1L546.8 441.9Z"/>
<path class="y" d="M156 514.8L177.7 516.2L164.1 522.5L142.4 521Z"/>
<path class="y" d="M432.8 480.4L454.5 480.3L440.9 488.4L419.2 488.3Z"/>
<path class="g" d="M261.9 409.3L283.6 404.7L269.9 409.9L248.3 414.4Z"/>
<path class="y" d="M652.7 419.4L674.4 415.5L660.7 429.3L639 432.5Z"/>
<path class="r" d="M226.6 437.1L248.3 440.4L234.7 445.5L213 442.3Z"/>
<path class="g" d="M517 317.8L538.7 304.5L525.1 309.7L503.4 323Z"/>
<path class="r" d="M468.1 437.3L489.8 440.5L476.2 445.7L454.5 442.4Z"/>
<path class="y" d="M525.1 461.7L546.8 460.6L533.1 470L511.5 470.9Z"/>
<path class="r" d="M709.7 437.5L731.3 440.7L717.7 445.8L696 442.6Z"/>
<path class="r" d="M134.3 437.7L156 440.9L142.4 446.1L120.7 442.8Z"/>
<path class="r" d="M375.9 437.9L397.5 441.1L383.9 446.2L362.2 443Z"/>
<path class="g" d="M354.2 383.3L375.9 376.5L362.2 381.7L340.6 388.5Z"/>
<path class="g" d="M134.3 437.7L156 435.1L142.4 440.2L120.7 442.8Z"/>
<path class="r n" d="M617.4 438.1L639 441.3L625.4 446.4L618 445.3L611.5 440.3Z"/><path class="e r" d="M617.4 438.1L639 441.3M639 441.3L625.4 446.4M625.4 446.4L618 445.3M611.5 440.3L617.4 438.1"/>
<path class="g" d="M481.8 334.5L503.4 323L489.8 328.1L468.1 339.7Z"/>
<path class="y n" d="M617.4 435.3L639 432.5L625.4 444.5L618 445.3L611.5 440.3Z"/><path class="e y" d="M617.4 435.3L639 432.5M639 432.5L625.4 444.5M625.4 444.5L618 445.3M611.5 440.3L617.4 435.3"/>
<path class="y" d="M305.2 500.9L326.9 501.7L313.3 508.6L291.6 507.8Z"/>
<path class="y" d="M213 511.1L234.7 512.3L221 518.8L199.3 517.5Z"/>
<path class="y" d="M397.5 488.1L419.2 488.3L405.6 496L383.9 495.6Z"/>
<path class="g" d="M226.6 418.4L248.3 414.4L234.7 419.5L213 423.5Z"/>
<path class="r" d="M283.6 438.5L305.2 441.7L291.6 446.8L269.9 443.6Z"/>
<path class="r" d="M525.1 438.6L546.8 441.9L533.1 447L511.5 443.8Z"/>
<path class="y n" d="M618 445.3L603.8 446.9L611.5 440.3Z"/><path class="e y" d="M618 445.3L603.8 446.9M603.8 446.9L611.5 440.3"/>
<path class="r n" d="M618 445.3L603.8 443.2L611.5 440.3Z"/><path class="e r" d="M618 445.3L603.8 443.2M603.8 443.2L611.5 440.3"/>
<path class="y" d="M489.8 471.5L511.5 470.9L497.9 479.7L476.2 480.1Z"/>
<path class="r" d="M191.3 439L213 442.3L199.3 447.4L177.7 444.2Z"/>
<path class="r" d="M432.8 439.2L454.5 442.4L440.9 447.6L419.2 444.3Z"/>
<path class="g" d="M318.9 394.4L340.6 388.5L326.9 393.6L305.2 399.5Z"/>
<path class="g" d="M446.4 349.8L468.1 339.7L454.5 344.8L432.8 354.9Z"/>
<path class="r" d="M674.4 439.4L696 442.6L682.4 447.7L660.7 444.5Z"/>
<path class="y" d="M582.1 448.8L603.8 446.9L590.1 457.6L568.4 459.2Z"/>
<path class="g" d="M679.9 205.3L701.6 176.1L688 181.3L666.3 210.5Z"/>
<path class="g" d="M715.2 171L736.9 135.9L723.3 141L701.6 176.1Z"/>
<path class="g" d="M644.6 235L666.3 210.5L652.7 215.6L631 240.2Z"/>
<path class="r" d="M340.6 439.8L362.2 443L348.6 448.1L326.9 444.9Z"/>
<path class="y" d="M709.7 395L731.3 389L717.7 406.1L696 411.2Z"/>
<path class="r" d="M582.1 440L603.8 443.2L590.1 448.3L568.4 445.1Z"/>
<path class="g" d="M191.3 427L213 423.5L199.3 428.6L177.7 432.1Z"/>
<path class="y" d="M269.9 506.8L291.6 507.8L278 514.5L256.3 513.4Z"/>
<path class="g" d="M609.3 261L631 240.2L617.4 245.3L595.7 266.2Z"/>
<path class="y" d="M362.2 495.2L383.9 495.6L370.3 503L348.6 502.4Z"/>
<path class="g" d="M750.5 130.8L772.2 88L758.6 93.1L736.9 135.9Z"/>
<path class="y" d="M177.7 516.2L199.3 517.5L185.7 523.9L164.1 522.5Z"/>
<path class="y" d="M454.5 480.3L476.2 480.1L462.6 488.3L440.9 488.4Z"/>
<path class="r" d="M248.3 440.4L269.9 443.6L256.3 448.7L234.7 445.5Z"/>
<path class="g" d="M411.2 363.7L432.8 354.9L419.2 360L397.5 368.8Z"/>
<path class="r" d="M489.8 440.5L511.5 443.8L497.9 448.9L476.2 445.7Z"/>
<path class="g" d="M283.6 404.7L305.2 399.5L291.6 404.6L269.9 409.9Z"/>
<path class="g" d="M574 284L595.7 266.2L582.1 271.3L560.4 289.1Z"/>
<path class="y" d="M674.4 415.5L696 411.2L682.4 425.6L660.7 429.3Z"/>
<path class="y" d="M546.8 460.6L568.4 459.2L554.8 468.9L533.1 470Z"/>
<path class="r" d="M156 440.9L177.7 444.2L164.1 449.3L142.4 446.1Z"/>
<path class="r" d="M397.5 441.1L419.2 444.3L405.6 449.5L383.9 446.2Z"/>
<path class="r" d="M639 441.3L660.7 444.5L647.1 449.6L625.4 446.4Z"/>
<path class="g" d="M538.7 304.5L560.4 289.1L546.8 294.3L525.1 309.7Z"/>
<path class="g" d="M156 435.1L177.7 432.1L164.1 437.2L142.4 440.2Z"/>
<path class="y" d="M326.9 501.7L348.6 502.4L335 509.4L313.3 508.6Z"/>
<path class="r" d="M305.2 441.7L326.9 444.9L313.3 450L291.6 446.8Z"/>
<path class="y" d="M234.7 512.3L256.3 513.4L242.7 520L221 518.8Z"/>
<path class="g" d="M375.9 376.5L397.5 368.8L383.9 373.9L362.2 381.7Z"/>
<path class="y" d="M639 432.5L660.7 429.3L647.1 441.8L625.4 444.5Z"/>
<path class="y" d="M419.2 488.3L440.9 488.4L427.2 496.2L405.6 496Z"/>
<path class="r" d="M546.8 441.9L568.4 445.1L554.8 450.2L533.1 447Z"/>
<path class="g" d="M248.3 414.4L269.9 409.9L256.3 415L234.7 419.5Z"/>
<path class="y" d="M511.5 470.9L533.1 470L519.5 479L497.9 479.7Z"/>
<path class="r" d="M213 442.3L234.7 445.5L221 450.6L199.3 447.4Z"/>
<path class="g" d="M503.4 323L525.1 309.7L511.5 314.8L489.8 328.1Z"/>
<path class="r n" d="M618 445.3L625.4 446.4L621.1 448Z"/><path class="e r" d="M618 445.3L625.4 446.4M625.4 446.4L621.1 448"/>
<path class="y n" d="M618 445.3L625.4 444.5L621.1 448Z"/><path class="e y" d="M618 445.3L625.4 444.5M625.4 444.5L621.1 448"/>
<path class="r" d="M454.5 442.4L476.2 445.7L462.6 450.8L440.9 447.6Z"/>
<path class="r" d="M696 442.6L717.7 445.8L704.1 451L682.4 447.7Z"/>
<path class="y n" d="M603.8 446.9L618 445.3L621.1 448L611.8 455.6L590.1 457.6Z"/><path class="e y" d="M603.8 446.9L618 445.3M621.1 448L611.8 455.6M611.8 455.6L590.1 457.6M590.1 457.6L603.8 446.9"/>
<path class="r" d="M362.2 443L383.9 446.2L370.3 451.4L348.6 448.1Z"/>
<path class="g" d="M340.6 388.5L362.2 381.7L348.6 386.8L326.9 393.6Z"/>
<path class="r n" d="M603.8 443.2L618 445.3L621.1 448L611.8 451.5L590.1 448.3Z"/><path class="e r" d="M603.8 443.2L618 445.3M621.1 448L611.8 451.5M611.8 451.5L590.1 448.3M590.1 448.3L603.8 443.2"/>
<path class="g" d="M468.1 339.7L489.8 328.1L476.2 333.2L454.5 344.8Z"/>
<path class="y" d="M291.6 507.8L313.3 508.6L299.7 515.4L278 514.5Z"/>
<path class="y" d="M199.3 517.5L221 518.8L207.4 525.2L185.7 523.9Z"/>
<path class="y" d="M383.9 495.6L405.6 496L391.9 503.4L370.3 503Z"/>
<path class="g" d="M213 423.5L234.7 419.5L221 424.7L199.3 428.6Z"/>
<path class="r" d="M269.9 443.6L291.6 446.8L278 451.9L256.3 448.7Z"/>
<path class="y" d="M476.2 480.1L497.9 479.7L484.2 488.1L462.6 488.3Z"/>
<path class="r" d="M511.5 443.8L533.1 447L519.5 452.1L497.9 448.9Z"/>
<path class="r" d="M177.7 444.2L199.3 447.4L185.7 452.5L164.1 449.3Z"/>
<path class="y" d="M568.4 459.2L590.1 457.6L576.5 467.6L554.8 468.9Z"/>
<path class="r" d="M419.2 444.3L440.9 447.6L427.2 452.7L405.6 449.5Z"/>
<path class="y" d="M696 411.2L717.7 406.1L704.1 421.3L682.4 425.6Z"/>
<path class="g" d="M305.2 399.5L326.9 393.6L313.3 398.7L291.6 404.6Z"/>
<path class="g" d="M432.8 354.9L454.5 344.8L440.9 349.9L419.2 360Z"/>
<path class="r" d="M660.7 444.5L682.4 447.7L668.8 452.9L647.1 449.6Z"/>
<path class="g" d="M666.3 210.5L688 181.3L674.4 186.4L652.7 215.6Z"/>
<path class="g" d="M701.6 176.1L723.3 141L709.7 146.1L688 181.3Z"/>
<path class="g" d="M631 240.2L652.7 215.6L639 220.7L617.4 245.3Z"/>
<path class="r" d="M326.9 444.9L348.6 448.1L335 453.3L313.3 450Z"/>
<path class="y" d="M256.3 513.4L278 514.5L264.4 521.1L242.7 520Z"/>
<path class="y" d="M348.6 502.4L370.3 503L356.7 510.1L335 509.4Z"/>
<path class="r" d="M568.4 445.1L590.1 448.3L576.5 453.4L554.8 450.2Z"/>
<path class="g" d="M177.7 432.1L199.3 428.6L185.7 433.8L164.1 437.2Z"/>
<path class="g" d="M595.7 266.2L617.4 245.3L603.8 250.4L582.1 271.3Z"/>
<path class="g" d="M736.9 135.9L758.6 93.1L745 98.2L723.3 141Z"/>
<path class="y" d="M440.9 488.4L462.6 488.3L448.9 496.2L427.2 496.2Z"/>
<path class="y" d="M660.7 429.3L682.4 425.6L668.8 438.6L647.1 441.8Z"/>
<path class="r" d="M234.7 445.5L256.3 448.7L242.7 453.8L221 450.6Z"/>
<path class="g" d="M397.5 368.8L419.2 360L405.6 365.1L383.9 373.9Z"/>
<path class="r" d="M476.2 445.7L497.9 448.9L484.2 454L462.6 450.8Z"/>
<path class="y" d="M533.1 470L554.8 468.9L541.2 478.2L519.5 479Z"/>
<path class="g" d="M269.9 409.9L291.6 404.6L278 409.8L256.3 415Z"/>
<path class="g" d="M560.4 289.1L582.1 271.3L568.4 276.4L546.8 294.3Z"/>
<path class="r" d="M383.9 446.2L405.6 449.5L391.9 454.6L370.3 451.4Z"/>
<path class="r n" d="M625.4 446.4L647.1 449.6L633.5 454.8L627.7 453.9L621.1 448Z"/><path class="e r" d="M625.4 446.4L647.1 449.6M647.1 449.6L633.5 454.8M633.5 454.8L627.7 453.9M621.1 448L625.4 446.4"/>
<path class="y n" d="M625.4 444.5L647.1 441.8L633.5 453.3L627.7 453.9L621.1 448Z"/><path class="e y" d="M625.4 444.5L647.1 441.8M647.1 441.8L633.5 453.3M633.5 453.3L627.7 453.9M621.1 448L625.4 444.5"/>
<path class="g" d="M525.1 309.7L546.8 294.3L533.1 299.4L511.5 314.8Z"/>
<path class="y" d="M313.3 508.6L335 509.4L321.4 516.3L299.7 515.4Z"/>
<path class="y" d="M221 518.8L242.7 520L229.1 526.4L207.4 525.2Z"/>
<path class="y" d="M405.6 496L427.2 496.2L413.6 503.7L391.9 503.4Z"/>
<path class="r" d="M291.6 446.8L313.3 450L299.7 455.2L278 451.9Z"/>
<path class="g" d="M362.2 381.7L383.9 373.9L370.3 379.1L348.6 386.8Z"/>
<path class="y n" d="M627.7 453.9L611.8 455.6L621.1 448Z"/><path class="e y" d="M627.7 453.9L611.8 455.6M611.8 455.6L621.1 448"/>
<path class="r n" d="M627.7 453.9L611.8 451.5L621.1 448Z"/><path class="e r" d="M627.7 453.9L611.8 451.5M611.8 451.5L621.1 448"/>
<path class="r" d="M533.1 447L554.8 450.2L541.2 455.3L519.5 452.1Z"/>
<path class="y" d="M497.9 479.7L519.5 479L505.9 487.6L484.2 488.1Z"/>
<path class="g" d="M234.7 419.5L256.3 415L242.7 420.1L221 424.7Z"/>
<path class="r" d="M199.3 447.4L221 450.6L207.4 455.7L185.7 452.5Z"/>
<path class="g" d="M489.8 328.1L511.5 314.8L497.9 319.9L476.2 333.2Z"/>
<path class="r" d="M440.9 447.6L462.6 450.8L448.9 455.9L427.2 452.7Z"/>
<path class="r" d="M682.4 447.7L704.1 451L690.5 456.1L668.8 452.9Z"/>
<path class="y" d="M590.1 457.6L611.8 455.6L598.2 466L576.5 467.6Z"/>
<path class="r" d="M348.6 448.1L370.3 451.4L356.7 456.5L335 453.3Z"/>
<path class="g" d="M326.9 393.6L348.6 386.8L335 391.9L313.3 398.7Z"/>
<path class="r" d="M590.1 448.3L611.8 451.5L598.2 456.7L576.5 453.4Z"/>
<path class="y" d="M278 514.5L299.7 515.4L286.1 522.1L264.4 521.1Z"/>
<path class="y" d="M370.3 503L391.9 503.4L378.3 510.6L356.7 510.1Z"/>
<path class="g" d="M454.5 344.8L476.2 333.2L462.6 338.3L440.9 349.9Z"/>
<path class="y" d="M462.6 488.3L484.2 488.1L470.6 496.1L448.9 496.2Z"/>
<path class="g" d="M199.3 428.6L221 424.7L207.4 429.8L185.7 433.8Z"/>
<path class="r" d="M256.3 448.7L278 451.9L264.4 457.1L242.7 453.8Z"/>
<path class="r" d="M497.9 448.9L519.5 452.1L505.9 457.2L484.2 454Z"/>
<path class="y" d="M682.4 425.6L704.1 421.3L690.5 435L668.8 438.6Z"/>
<path class="y" d="M554.8 468.9L576.5 467.6L562.9 477.1L541.2 478.2Z"/>
<path class="r" d="M405.6 449.5L427.2 452.7L413.6 457.8L391.9 454.6Z"/>
<path class="g" d="M291.6 404.6L313.3 398.7L299.7 403.8L278 409.8Z"/>
<path class="g" d="M419.2 360L440.9 349.9L427.2 355L405.6 365.1Z"/>
<path class="r" d="M647.1 449.6L668.8 452.9L655.2 458L633.5 454.8Z"/>
<path class="g" d="M652.7 215.6L674.4 186.4L660.7 191.5L639 220.7Z"/>
<path class="g" d="M688 181.3L709.7 146.1L696 151.3L674.4 186.4Z"/>
<path class="g" d="M617.4 245.3L639 220.7L625.4 225.8L603.8 250.4Z"/>
<path class="r" d="M313.3 450L335 453.3L321.4 458.4L299.7 455.2Z"/>
<path class="y" d="M647.1 441.8L668.8 438.6L655.2 450.6L633.5 453.3Z"/>
<path class="y" d="M335 509.4L356.7 510.1L343 517L321.4 516.3Z"/>
<path class="y" d="M242.7 520L264.4 521.1L250.8 527.6L229.1 526.4Z"/>
<path class="r" d="M554.8 450.2L576.5 453.4L562.9 458.6L541.2 455.3Z"/>
<path class="y" d="M427.2 496.2L448.9 496.2L435.3 503.9L413.6 503.7Z"/>
<path class="g" d="M582.1 271.3L603.8 250.4L590.1 255.5L568.4 276.4Z"/>
<path class="g" d="M723.3 141L745 98.2L731.3 103.4L709.7 146.1Z"/>
<path class="y" d="M519.5 479L541.2 478.2L527.6 486.9L505.9 487.6Z"/>
<path class="r" d="M221 450.6L242.7 453.8L229.1 459L207.4 455.7Z"/>
<path class="g" d="M383.9 373.9L405.6 365.1L391.9 370.2L370.3 379.1Z"/>
<path class="r n" d="M627.7 453.9L633.5 454.8L629.9 456.1Z"/><path class="e r" d="M627.7 453.9L633.5 454.8M633.5 454.8L629.9 456.1"/>
<path class="y n" d="M627.7 453.9L633.5 453.3L629.9 456.1Z"/><path class="e y" d="M627.7 453.9L633.5 453.3M633.5 453.3L629.9 456.1"/>
<path class="r" d="M462.6 450.8L484.2 454L470.6 459.1L448.9 455.9Z"/>
<path class="g" d="M256.3 415L278 409.8L264.4 414.9L242.7 420.1Z"/>
<path class="g" d="M546.8 294.3L568.4 276.4L554.8 281.5L533.1 299.4Z"/>
<path class="y n" d="M611.8 455.6L627.7 453.9L629.9 456.1L619.9 464L598.2 466Z"/><path class="e y" d="M611.8 455.6L627.7 453.9M629.9 456.1L619.9 464M619.9 464L598.2 466M598.2 466L611.8 455.6"/>
<path class="r" d="M370.3 451.4L391.9 454.6L378.3 459.7L356.7 456.5Z"/>
<path class="r n" d="M611.8 451.5L627.7 453.9L629.9 456.1L619.9 459.9L598.2 456.7Z"/><path class="e r" d="M611.8 451.5L627.7 453.9M629.9 456.1L619.9 459.9M619.9 459.9L598.2 456.7M598.2 456.7L611.8 451.5"/>
<path class="g" d="M511.5 314.8L533.1 299.4L519.5 304.5L497.9 319.9Z"/>
<path class="y" d="M299.7 515.4L321.4 516.3L307.7 523L286.1 522.1Z"/>
<path class="y" d="M391.9 503.4L413.6 503.7L400 511L378.3 510.6Z"/>
<path class="r" d="M278 451.9L299.7 455.2L286.1 460.3L264.4 457.1Z"/>
<path class="g" d="M348.6 386.8L370.3 379.1L356.7 384.2L335 391.9Z"/>
<path class="y" d="M484.2 488.1L505.9 487.6L492.3 495.8L470.6 496.1Z"/>
<path class="r" d="M519.5 452.1L541.2 455.3L527.6 460.5L505.9 457.2Z"/>
<path class="g" d="M221 424.7L242.7 420.1L229.1 425.2L207.4 429.8Z"/>
<path class="g" d="M476.2 333.2L497.9 319.9L484.2 325L462.6 338.3Z"/>
<path class="y" d="M576.5 467.6L598.2 466L584.5 475.7L562.9 477.1Z"/>
<path class="r" d="M427.2 452.7L448.9 455.9L435.3 461L413.6 457.8Z"/>
<path class="r" d="M668.8 452.9L690.5 456.1L676.8 461.2L655.2 458Z"/>
<path class="r" d="M335 453.3L356.7 456.5L343 461.6L321.4 458.4Z"/>
<path class="g" d="M313.3 398.7L335 391.9L321.4 397L299.7 403.8Z"/>
<path class="r" d="M576.5 453.4L598.2 456.7L584.5 461.8L562.9 458.6Z"/>
<path class="y" d="M264.4 521.1L286.1 522.1L272.4 528.7L250.8 527.6Z"/>
<path class="y" d="M356.7 510.1L378.3 510.6L364.7 517.7L343 517Z"/>
<path class="g" d="M440.9 349.9L462.6 338.3L448.9 343.5L427.2 355Z"/>
<path class="y" d="M448.9 496.2L470.6 496.1L457 503.9L435.3 503.9Z"/>
<path class="y" d="M668.8 438.6L690.5 435L676.8 447.5L655.2 450.6Z"/>
<path class="r" d="M242.7 453.8L264.4 457.1L250.8 462.2L229.1 459Z"/>
<path class="r" d="M484.2 454L505.9 457.2L492.3 462.4L470.6 459.1Z"/>
<path class="y" d="M541.2 478.2L562.9 477.1L549.2 486.1L527.6 486.9Z"/>
<path class="r" d="M391.9 454.6L413.6 457.8L400 462.9L378.3 459.7Z"/>
<path class="g" d="M278 409.8L299.7 403.8L286.1 409L264.4 414.9Z"/>
<path class="r n" d="M633.5 454.8L655.2 458L641.5 463.1L636 462.3L629.9 456.1Z"/><path class="e r" d="M633.5 454.8L655.2 458M655.2 458L641.5 463.1M641.5 463.1L636 462.3M629.9 456.1L633.5 454.8"/>
<path class="g" d="M405.6 365.1L427.2 355L413.6 360.2L391.9 370.2Z"/>
<path class="y n" d="M633.5 453.3L655.2 450.6L641.5 461.7L636 462.3L629.9 456.1Z"/><path class="e y" d="M633.5 453.3L655.2 450.6M655.2 450.6L641.5 461.7M641.5 461.7L636 462.3M629.9 456.1L633.5 453.3"/>
<path class="g" d="M639 220.7L660.7 191.5L647.1 196.6L625.4 225.8Z"/>
<path class="g" d="M674.4 186.4L696 151.3L682.4 156.4L660.7 191.5Z"/>
<path class="g" d="M603.8 250.4L625.4 225.8L611.8 231L590.1 255.5Z"/>
<path class="y" d="M321.4 516.3L343 517L329.4 523.8L307.7 523Z"/>
<path class="y n" d="M636 462.3L619.9 464L629.9 456.1Z"/><path class="e y" d="M636 462.3L619.9 464M619.9 464L629.9 456.1"/>
<path class="r" d="M299.7 455.2L321.4 458.4L307.7 463.5L286.1 460.3Z"/>
<path class="y" d="M413.6 503.7L435.3 503.9L421.7 511.3L400 511Z"/>
<path class="r n" d="M636 462.3L619.9 459.9L629.9 456.1Z"/><path class="e r" d="M636 462.3L619.9 459.9M619.9 459.9L629.9 456.1"/>
<path class="r" d="M541.2 455.3L562.9 458.6L549.2 463.7L527.6 460.5Z"/>
<path class="g" d="M568.4 276.4L590.1 255.5L576.5 260.7L554.8 281.5Z"/>
<path class="g" d="M709.7 146.1L731.3 103.4L717.7 108.5L696 151.3Z"/>
<path class="y" d="M505.9 487.6L527.6 486.9L514 495.3L492.3 495.8Z"/>
<path class="g" d="M370.3 379.1L391.9 370.2L378.3 375.4L356.7 384.2Z"/>
<path class="r" d="M448.9 455.9L470.6 459.1L457 464.3L435.3 461Z"/>
<path class="g" d="M242.7 420.1L264.4 414.9L250.8 420L229.1 425.2Z"/>
<path class="g" d="M533.1 299.4L554.8 281.5L541.2 286.7L519.5 304.5Z"/>
<path class="y" d="M598.2 466L619.9 464L606.2 474L584.5 475.7Z"/>
<path class="r" d="M356.7 456.5L378.3 459.7L364.7 464.8L343 461.6Z"/>
<path class="r" d="M598.2 456.7L619.9 459.9L606.2 465L584.5 461.8Z"/>
<path class="y" d="M286.1 522.1L307.7 523L294.1 529.6L272.4 528.7Z"/>
<path class="g" d="M497.9 319.9L519.5 304.5L505.9 309.6L484.2 325Z"/>
<path class="y" d="M378.3 510.6L400 511L386.4 518.2L364.7 517.7Z"/>
<path class="y" d="M470.6 496.1L492.3 495.8L478.7 503.8L457 503.9Z"/>
<path class="r" d="M264.4 457.1L286.1 460.3L272.4 465.4L250.8 462.2Z"/>
<path class="g" d="M335 391.9L356.7 384.2L343 389.3L321.4 397Z"/>
<path class="r" d="M505.9 457.2L527.6 460.5L514 465.6L492.3 462.4Z"/>
<path class="y" d="M562.9 477.1L584.5 475.7L570.9 484.9L549.2 486.1Z"/>
<path class="g" d="M462.6 338.3L484.2 325L470.6 330.2L448.9 343.5Z"/>
<path class="r" d="M413.6 457.8L435.3 461L421.7 466.2L400 462.9Z"/>
<path class="r" d="M655.2 458L676.8 461.2L663.2 466.3L641.5 463.1Z"/>
<path class="y" d="M655.2 450.6L676.8 447.5L663.2 459L641.5 461.7Z"/>
<path class="r" d="M321.4 458.4L343 461.6L329.4 466.7L307.7 463.5Z"/>
<path class="g" d="M299.7 403.8L321.4 397L307.7 402.2L286.1 409Z"/>
<path class="y" d="M343 517L364.7 517.7L351.1 524.6L329.4 523.8Z"/>
<path class="r" d="M562.9 458.6L584.5 461.8L570.9 466.9L549.2 463.7Z"/>
<path class="y" d="M435.3 503.9L457 503.9L443.4 511.5L421.7 511.3Z"/>
<path class="g" d="M427.2 355L448.9 343.5L435.3 348.6L413.6 360.2Z"/>
<path class="y" d="M527.6 486.9L549.2 486.1L535.6 494.7L514 495.3Z"/>
<path class="r n" d="M636 462.3L641.5 463.1L637.8 464.5Z"/><path class="e r" d="M636 462.3L641.5 463.1M641.5 463.1L637.8 464.5"/>
<path class="y n" d="M636 462.3L641.5 461.7L637.8 464.5Z"/><path class="e y" d="M636 462.3L641.5 461.7M641.5 461.7L637.8 464.5"/>
<path class="r" d="M470.6 459.1L492.3 462.4L478.7 467.5L457 464.3Z"/>
<path class="y n" d="M619.9 464L636 462.3L637.8 464.5L627.9 472.1L606.2 474Z"/><path class="e y" d="M619.9 464L636 462.3M637.8 464.5L627.9 472.1M627.9 472.1L606.2 474M606.2 474L619.9 464"/>
<path class="r" d="M378.3 459.7L400 462.9L386.4 468.1L364.7 464.8Z"/>
<path class="g" d="M264.4 414.9L286.1 409L272.4 414.1L250.8 420Z"/>
<path class="r n" d="M619.9 459.9L636 462.3L637.8 464.5L627.9 468.2L606.2 465Z"/><path class="e r" d="M619.9 459.9L636 462.3M637.8 464.5L627.9 468.2M627.9 468.2L606.2 465M606.2 465L619.9 459.9"/>
<path class="g" d="M391.9 370.2L413.6 360.2L400 365.3L378.3 375.4Z"/>
<path class="g" d="M625.4 225.8L647.1 196.6L633.5 201.8L611.8 231Z"/>
<path class="g" d="M660.7 191.5L682.4 156.4L668.8 161.5L647.1 196.6Z"/>
<path class="g" d="M590.1 255.5L611.8 231L598.2 236.1L576.5 260.7Z"/>
<path class="y" d="M307.7 523L329.4 523.8L315.8 530.5L294.1 529.6Z"/>
<path class="y" d="M400 511L421.7 511.3L408.1 518.6L386.4 518.2Z"/>
<path class="r" d="M286.1 460.3L307.7 463.5L294.1 468.6L272.4 465.4Z"/>
<path class="r" d="M527.6 460.5L549.2 463.7L535.6 468.8L514 465.6Z"/>
<path class="y" d="M492.3 495.8L514 495.3L500.3 503.4L478.7 503.8Z"/>
<path class="g" d="M554.8 281.5L576.5 260.7L562.9 265.8L541.2 286.7Z"/>
<path class="g" d="M696 151.3L717.7 108.5L704.1 113.6L682.4 156.4Z"/>
<path class="g" d="M356.7 384.2L378.3 375.4L364.7 380.5L343 389.3Z"/>
<path class="y" d="M584.5 475.7L606.2 474L592.6 483.5L570.9 484.9Z"/>
<path class="r" d="M435.3 461L457 464.3L443.4 469.4L421.7 466.2Z"/>
<path class="g" d="M519.5 304.5L541.2 286.7L527.6 291.8L505.9 309.6Z"/>
<path class="r" d="M343 461.6L364.7 464.8L351.1 470L329.4 466.7Z"/>
<path class="r" d="M584.5 461.8L606.2 465L592.6 470.1L570.9 466.9Z"/>
<path class="y" d="M364.7 517.7L386.4 518.2L372.8 525.1L351.1 524.6Z"/>
<path class="g" d="M484.2 325L505.9 309.6L492.3 314.8L470.6 330.2Z"/>
<path class="y" d="M457 503.9L478.7 503.8L465 511.4L443.4 511.5Z"/>
<path class="g" d="M321.4 397L343 389.3L329.4 394.4L307.7 402.2Z"/>
<path class="r" d="M492.3 462.4L514 465.6L500.3 470.7L478.7 467.5Z"/>
<path class="y" d="M549.2 486.1L570.9 484.9L557.3 493.7L535.6 494.7Z"/>
<path class="g" d="M448.9 343.5L470.6 330.2L457 335.3L435.3 348.6Z"/>
<path class="r" d="M400 462.9L421.7 466.2L408.1 471.3L386.4 468.1Z"/>
<path class="r n" d="M641.5 463.1L663.2 466.3L649.6 471.5L642.9 470.5L637.8 464.5Z"/><path class="e r" d="M641.5 463.1L663.2 466.3M663.2 466.3L649.6 471.5M649.6 471.5L642.9 470.5M637.8 464.5L641.5 463.1"/>
<path class="y n" d="M641.5 461.7L663.2 459L649.6 469.7L642.9 470.5L637.8 464.5Z"/><path class="e y" d="M641.5 461.7L663.2 459M663.2 459L649.6 469.7M649.6 469.7L642.9 470.5M637.8 464.5L641.5 461.7"/>
<path class="y n" d="M642.9 470.5L627.9 472.1L637.8 464.5Z"/><path class="e y" d="M642.9 470.5L627.9 472.1M627.9 472.1L637.8 464.5"/>
<path class="y" d="M329.4 523.8L351.1 524.6L337.4 531.3L315.8 530.5Z"/>
<path class="r" d="M307.7 463.5L329.4 466.7L315.8 471.9L294.1 468.6Z"/>
<path class="g" d="M286.1 409L307.7 402.2L294.1 407.3L272.4 414.1Z"/>
<path class="r n" d="M642.9 470.5L627.9 468.2L637.8 464.5Z"/><path class="e r" d="M642.9 470.5L627.9 468.2M627.9 468.2L637.8 464.5"/>
<path class="y" d="M421.7 511.3L443.4 511.5L429.7 518.8L408.1 518.6Z"/>
<path class="r" d="M549.2 463.7L570.9 466.9L557.3 472L535.6 468.8Z"/>
<path class="g" d="M413.6 360.2L435.3 348.6L421.7 353.7L400 365.3Z"/>
<path class="y" d="M514 495.3L535.6 494.7L522 502.9L500.3 503.4Z"/>
<path class="r" d="M457 464.3L478.7 467.5L465 472.6L443.4 469.4Z"/>
<path class="y" d="M606.2 474L627.9 472.1L614.3 481.8L592.6 483.5Z"/>
<path class="r" d="M364.7 464.8L386.4 468.1L372.8 473.2L351.1 470Z"/>
<path class="g" d="M378.3 375.4L400 365.3L386.4 370.4L364.7 380.5Z"/>
<path class="r" d="M606.2 465L627.9 468.2L614.3 473.4L592.6 470.1Z"/>
<path class="g" d="M611.8 231L633.5 201.8L619.9 206.9L598.2 236.1Z"/>
<path class="g" d="M647.1 196.6L668.8 161.5L655.2 166.6L633.5 201.8Z"/>
<path class="y" d="M386.4 518.2L408.1 518.6L394.4 525.6L372.8 525.1Z"/>
<path class="g" d="M576.5 260.7L598.2 236.1L584.5 241.2L562.9 265.8Z"/>
<path class="y" d="M478.7 503.8L500.3 503.4L486.7 511.2L465 511.4Z"/>
<path class="r" d="M514 465.6L535.6 468.8L522 473.9L500.3 470.7Z"/>
<path class="g" d="M541.2 286.7L562.9 265.8L549.2 270.9L527.6 291.8Z"/>
<path class="g" d="M682.4 156.4L704.1 113.6L690.5 118.8L668.8 161.5Z"/>
<path class="y" d="M570.9 484.9L592.6 483.5L579 492.6L557.3 493.7Z"/>
<path class="g" d="M343 389.3L364.7 380.5L351.1 385.6L329.4 394.4Z"/>
<path class="r" d="M421.7 466.2L443.4 469.4L429.7 474.5L408.1 471.3Z"/>
<path class="g" d="M505.9 309.6L527.6 291.8L514 296.9L492.3 314.8Z"/>
<path class="r" d="M329.4 466.7L351.1 470L337.4 475.1L315.8 471.9Z"/>
<path class="y" d="M351.1 524.6L372.8 525.1L359.1 532L337.4 531.3Z"/>
<path class="r" d="M570.9 466.9L592.6 470.1L579 475.3L557.3 472Z"/>
<path class="y" d="M443.4 511.5L465 511.4L451.4 518.9L429.7 518.8Z"/>
<path class="g" d="M470.6 330.2L492.3 314.8L478.7 319.9L457 335.3Z"/>
<path class="y" d="M535.6 494.7L557.3 493.7L543.7 502.2L522 502.9Z"/>
<path class="g" d="M307.7 402.2L329.4 394.4L315.8 399.6L294.1 407.3Z"/>
<path class="r" d="M478.7 467.5L500.3 470.7L486.7 475.8L465 472.6Z"/>
<path class="r n" d="M642.9 470.5L649.6 471.5L644.9 473.2Z"/><path class="e r" d="M642.9 470.5L649.6 471.5M649.6 471.5L644.9 473.2"/>
<path class="y n" d="M642.9 470.5L649.6 469.7L644.9 473.2Z"/><path class="e y" d="M642.9 470.5L649.6 469.7M649.6 469.7L644.9 473.2"/>
<path class="g" d="M435.3 348.6L457 335.3L443.4 340.4L421.7 353.7Z"/>
<path class="y n" d="M627.9 472.1L642.9 470.5L644.9 473.2L636 479.8L614.3 481.8Z"/><path class="e y" d="M627.9 472.1L642.9 470.5M644.9 473.2L636 479.8M636 479.8L614.3 481.8M614.3 481.8L627.9 472.1"/>
<path class="r" d="M386.4 468.1L408.1 471.3L394.4 476.4L372.8 473.2Z"/>
<path class="r n" d="M627.9 468.2L642.9 470.5L644.9 473.2L636 476.6L614.3 473.4Z"/><path class="e r" d="M627.9 468.2L642.9 470.5M644.9 473.2L636 476.6M636 476.6L614.3 473.4M614.3 473.4L627.9 468.2"/>
<path class="y" d="M408.1 518.6L429.7 518.8L416.1 526L394.4 525.6Z"/>
<path class="r" d="M535.6 468.8L557.3 472L543.7 477.2L522 473.9Z"/>
<path class="y" d="M500.3 503.4L522 502.9L508.4 510.9L486.7 511.2Z"/>
<path class="g" d="M400 365.3L421.7 353.7L408.1 358.8L386.4 370.4Z"/>
<path class="y" d="M592.6 483.5L614.3 481.8L600.7 491.1L579 492.6Z"/>
<path class="r" d="M443.4 469.4L465 472.6L451.4 477.7L429.7 474.5Z"/>
<path class="r" d="M351.1 470L372.8 473.2L359.1 478.3L337.4 475.1Z"/>
<path class="g" d="M364.7 380.5L386.4 370.4L372.8 375.5L351.1 385.6Z"/>
<path class="r" d="M592.6 470.1L614.3 473.4L600.7 478.5L579 475.3Z"/>
<path class="g" d="M598.2 236.1L619.9 206.9L606.2 212L584.5 241.2Z"/>
<path class="y" d="M372.8 525.1L394.4 525.6L380.8 532.5L359.1 532Z"/>
<path class="g" d="M633.5 201.8L655.2 166.6L641.5 171.8L619.9 206.9Z"/>
<path class="g" d="M562.9 265.8L584.5 241.2L570.9 246.3L549.2 270.9Z"/>
<path class="y" d="M465 511.4L486.7 511.2L473.1 518.8L451.4 518.9Z"/>
<path class="r" d="M500.3 470.7L522 473.9L508.4 479.1L486.7 475.8Z"/>
<path class="g" d="M527.6 291.8L549.2 270.9L535.6 276L514 296.9Z"/>
<path class="y" d="M557.3 493.7L579 492.6L565.4 501.2L543.7 502.2Z"/>
<path class="g" d="M668.8 161.5L690.5 118.8L676.8 123.9L655.2 166.6Z"/>
<path class="g" d="M329.4 394.4L351.1 385.6L337.4 390.8L315.8 399.6Z"/>
<path class="r" d="M408.1 471.3L429.7 474.5L416.1 479.6L394.4 476.4Z"/>
<path class="g" d="M492.3 314.8L514 296.9L500.3 302L478.7 319.9Z"/>
<path class="y" d="M429.7 518.8L451.4 518.9L437.8 526.2L416.1 526Z"/>
<path class="r" d="M557.3 472L579 475.3L565.4 480.4L543.7 477.2Z"/>
<path class="g" d="M457 335.3L478.7 319.9L465 325L443.4 340.4Z"/>
<path class="y" d="M522 502.9L543.7 502.2L530 510.3L508.4 510.9Z"/>
<path class="r" d="M465 472.6L486.7 475.8L473.1 481L451.4 477.7Z"/>
<path class="y" d="M614.3 481.8L636 479.8L622.3 489.4L600.7 491.1Z"/>
<path class="g" d="M421.7 353.7L443.4 340.4L429.7 345.5L408.1 358.8Z"/>
<path class="r" d="M372.8 473.2L394.4 476.4L380.8 481.5L359.1 478.3Z"/>
<path class="r" d="M614.3 473.4L636 476.6L622.3 481.7L600.7 478.5Z"/>
<path class="y" d="M394.4 525.6L416.1 526L402.5 532.9L380.8 532.5Z"/>
<path class="y" d="M486.7 511.2L508.4 510.9L494.8 518.6L473.1 518.8Z"/>
<path class="r" d="M522 473.9L543.7 477.2L530 482.3L508.4 479.1Z"/>
<path class="g" d="M386.4 370.4L408.1 358.8L394.4 364L372.8 375.5Z"/>
<path class="y" d="M579 492.6L600.7 491.1L587 500L565.4 501.2Z"/>
<path class="r" d="M429.7 474.5L451.4 477.7L437.8 482.9L416.1 479.6Z"/>
<path class="g" d="M351.1 385.6L372.8 375.5L359.1 380.7L337.4 390.8Z"/>
<path class="r" d="M579 475.3L600.7 478.5L587 483.6L565.4 480.4Z"/>
<path class="g" d="M584.5 241.2L606.2 212L592.6 217.1L570.9 246.3Z"/>
<path class="y" d="M451.4 518.9L473.1 518.8L459.4 526.2L437.8 526.2Z"/>
<path class="g" d="M619.9 206.9L641.5 171.8L627.9 176.9L606.2 212Z"/>
<path class="g" d="M549.2 270.9L570.9 246.3L557.3 251.5L535.6 276Z"/>
<path class="y" d="M543.7 502.2L565.4 501.2L551.7 509.5L530 510.3Z"/>
<path class="r" d="M486.7 475.8L508.4 479.1L494.8 484.2L473.1 481Z"/>
<path class="g" d="M514 296.9L535.6 276L522 281.2L500.3 302Z"/>
<path class="g" d="M655.2 166.6L676.8 123.9L663.2 129L641.5 171.8Z"/>
<path class="r" d="M394.4 476.4L416.1 479.6L402.5 484.8L380.8 481.5Z"/>
<path class="g" d="M478.7 319.9L500.3 302L486.7 307.2L465 325Z"/>
<path class="y" d="M416.1 526L437.8 526.2L424.2 533.2L402.5 532.9Z"/>
<path class="r" d="M543.7 477.2L565.4 480.4L551.7 485.5L530 482.3Z"/>
<path class="y" d="M508.4 510.9L530 510.3L516.4 518.1L494.8 518.6Z"/>
<path class="g" d="M443.4 340.4L465 325L451.4 330.1L429.7 345.5Z"/>
<path class="r" d="M451.4 477.7L473.1 481L459.4 486.1L437.8 482.9Z"/>
<path class="y" d="M600.7 491.1L622.3 489.4L608.7 498.5L587 500Z"/>
<path class="g" d="M408.1 358.8L429.7 345.5L416.1 350.7L394.4 364Z"/>
<path class="r" d="M600.7 478.5L622.3 481.7L608.7 486.8L587 483.6Z"/>
<path class="y" d="M473.1 518.8L494.8 518.6L481.1 526.1L459.4 526.2Z"/>
<path class="r" d="M508.4 479.1L530 482.3L516.4 487.4L494.8 484.2Z"/>
<path class="g" d="M372.8 375.5L394.4 364L380.8 369.1L359.1 380.7Z"/>
<path class="y" d="M565.4 501.2L587 500L573.4 508.5L551.7 509.5Z"/>
<path class="r" d="M416.1 479.6L437.8 482.9L424.2 488L402.5 484.8Z"/>
<path class="r" d="M565.4 480.4L587 483.6L573.4 488.7L551.7 485.5Z"/>
<path class="y" d="M437.8 526.2L459.4 526.2L445.8 533.4L424.2 533.2Z"/>
<path class="g" d="M570.9 246.3L592.6 217.1L579 222.3L557.3 251.5Z"/>
<path class="g" d="M606.2 212L627.9 176.9L614.3 182L592.6 217.1Z"/>
<path class="g" d="M535.6 276L557.3 251.5L543.7 256.6L522 281.2Z"/>
<path class="y" d="M530 510.3L551.7 509.5L538.1 517.5L516.4 518.1Z"/>
<path class="r" d="M473.1 481L494.8 484.2L481.1 489.3L459.4 486.1Z"/>
<path class="g" d="M500.3 302L522 281.2L508.4 286.3L486.7 307.2Z"/>
<path class="g" d="M641.5 171.8L663.2 129L649.6 134.1L627.9 176.9Z"/>
<path class="g" d="M465 325L486.7 307.2L473.1 312.3L451.4 330.1Z"/>
<path class="y" d="M494.8 518.6L516.4 518.1L502.8 525.8L481.1 526.1Z"/>
<path class="r" d="M530 482.3L551.7 485.5L538.1 490.6L516.4 487.4Z"/>
<path class="g" d="M429.7 345.5L451.4 330.1L437.8 335.3L416.1 350.7Z"/>
<path class="y" d="M587 500L608.7 498.5L595.1 507.2L573.4 508.5Z"/>
<path class="r" d="M437.8 482.9L459.4 486.1L445.8 491.2L424.2 488Z"/>
<path class="g" d="M394.4 364L416.1 350.7L402.5 355.8L380.8 369.1Z"/>
<path class="r" d="M587 483.6L608.7 486.8L595.1 492L573.4 488.7Z"/>
<path class="y" d="M459.4 526.2L481.1 526.1L467.5 533.4L445.8 533.4Z"/>
<path class="y" d="M551.7 509.5L573.4 508.5L559.8 516.6L538.1 517.5Z"/>
<path class="r" d="M494.8 484.2L516.4 487.4L502.8 492.5L481.1 489.3Z"/>
<path class="r" d="M551.7 485.5L573.4 488.7L559.8 493.9L538.1 490.6Z"/>
<path class="g" d="M557.3 251.5L579 222.3L565.4 227.4L543.7 256.6Z"/>
<path class="y" d="M516.4 518.1L538.1 517.5L524.5 525.3L502.8 525.8Z"/>
<path class="g" d="M592.6 217.1L614.3 182L600.7 187.1L579 222.3Z"/>
<path class="g" d="M522 281.2L543.7 256.6L530 261.7L508.4 286.3Z"/>
<path class="r" d="M459.4 486.1L481.1 489.3L467.5 494.4L445.8 491.2Z"/>
<path class="g" d="M486.7 307.2L508.4 286.3L494.8 291.4L473.1 312.3Z"/>
<path class="g" d="M627.9 176.9L649.6 134.1L636 139.2L614.3 182Z"/>
<path class="g" d="M451.4 330.1L473.1 312.3L459.4 317.4L437.8 335.3Z"/>
<path class="y" d="M481.1 526.1L502.8 525.8L489.2 533.2L467.5 533.4Z"/>
<path class="r" d="M516.4 487.4L538.1 490.6L524.5 495.8L502.8 492.5Z"/>
<path class="g" d="M416.1 350.7L437.8 335.3L424.2 340.4L402.5 355.8Z"/>
<path class="y" d="M573.4 508.5L595.1 507.2L581.5 515.5L559.8 516.6Z"/>
<path class="r" d="M573.4 488.7L595.1 492L581.5 497.1L559.8 493.9Z"/>
<path class="y" d="M538.1 517.5L559.8 516.6L546.2 524.5L524.5 525.3Z"/>
<path class="r" d="M481.1 489.3L502.8 492.5L489.2 497.7L467.5 494.4Z"/>
<path class="r" d="M538.1 490.6L559.8 493.9L546.2 499L524.5 495.8Z"/>
<path class="y" d="M502.8 525.8L524.5 525.3L510.9 532.8L489.2 533.2Z"/>
<path class="g" d="M543.7 256.6L565.4 227.4L551.7 232.5L530 261.7Z"/>
<path class="g" d="M579 222.3L600.7 187.1L587 192.3L565.4 227.4Z"/>
<path class="g" d="M508.4 286.3L530 261.7L516.4 266.8L494.8 291.4Z"/>
<path class="g" d="M473.1 312.3L494.8 291.4L481.1 296.5L459.4 317.4Z"/>
<path class="g" d="M614.3 182L636 139.2L622.3 144.4L600.7 187.1Z"/>
<path class="g" d="M437.8 335.3L459.4 317.4L445.8 322.5L424.2 340.4Z"/>
<path class="r" d="M502.8 492.5L524.5 495.8L510.9 500.9L489.2 497.7Z"/>
<path class="y" d="M559.8 516.6L581.5 515.5L567.8 523.6L546.2 524.5Z"/>
<path class="r" d="M559.8 493.9L581.5 497.1L567.8 502.2L546.2 499Z"/>
<path class="y" d="M524.5 525.3L546.2 524.5L532.5 532.2L510.9 532.8Z"/>
<path class="r" d="M524.5 495.8L546.2 499L532.5 504.1L510.9 500.9Z"/>
<path class="g" d="M530 261.7L551.7 232.5L538.1 237.6L516.4 266.8Z"/>
<path class="g" d="M565.4 227.4L587 192.3L573.4 197.4L551.7 232.5Z"/>
<path class="g" d="M494.8 291.4L516.4 266.8L502.8 272L481.1 296.5Z"/>
<path class="g" d="M459.4 317.4L481.1 296.5L467.5 301.7L445.8 322.5Z"/>
<path class="g" d="M600.7 187.1L622.3 144.4L608.7 149.5L587 192.3Z"/>
<path class="y" d="M546.2 524.5L567.8 523.6L554.2 531.4L532.5 532.2Z"/>
<path class="r" d="M546.2 499L567.8 502.2L554.2 507.3L532.5 504.1Z"/>
<path class="g" d="M516.4 266.8L538.1 237.6L524.5 242.8L502.8 272Z"/>
<path class="g" d="M551.7 232.5L573.4 197.4L559.8 202.5L538.1 237.6Z"/>
<path class="g" d="M481.1 296.5L502.8 272L489.2 277.1L467.5 301.7Z"/>
<path class="g" d="M587 192.3L608.7 149.5L595.1 154.6L573.4 197.4Z"/>
<path class="g" d="M502.8 272L524.5 242.8L510.9 247.9L489.2 277.1Z"/>
<path class="g" d="M538.1 237.6L559.8 202.5L546.2 207.6L524.5 242.8Z"/>
<path class="g" d="M573.4 197.4L595.1 154.6L581.5 159.8L559.8 202.5Z"/>
<path class="g" d="M524.5 242.8L546.2 207.6L532.5 212.8L510.9 247.9Z"/>
<path class="g" d="M559.8 202.5L581.5 159.8L567.8 164.9L546.2 207.6Z"/>
<path class="g" d="M546.2 207.6L567.8 164.9L554.2 170L532.5 212.8Z"/>
</g>
<g id="box-front">
<line class="b" x1="554.2" y1="676" x2="554.2" y2="170"/>
<line class="b" x1="120.7" y1="105.5" x2="554.2" y2="170"/>
<line class="b" x1="554.2" y1="170" x2="826.7" y2="67.5"/>
</g>
<g id="labels">
<text class="tk" x="96" y="113" text-anchor="end">1500</text>
<text class="tk" x="96" y="281.5" text-anchor="end">1000</text>
<text class="tk" x="96" y="450.5" text-anchor="end">500</text>
<text class="tk" x="96" y="619.5" text-anchor="end">0</text>
<text class="tk" x="90.6" y="646.5" text-anchor="middle">0</text>
<text class="tk" x="165.6" y="659" text-anchor="middle">0.2</text>
<text class="tk" x="253.2" y="672" text-anchor="middle">0.4</text>
<text class="tk" x="340" y="685.5" text-anchor="middle">0.6</text>
<text class="tk" x="427" y="699" text-anchor="middle">0.8</text>
<text class="tk" x="525.4" y="711" text-anchor="middle">1</text>
<text class="tk" x="857.4" y="603" text-anchor="middle">0</text>
<text class="tk" x="814" y="624" text-anchor="middle">0.2</text>
<text class="tk" x="758.9" y="645" text-anchor="middle">0.4</text>
<text class="tk" x="704.9" y="666" text-anchor="middle">0.6</text>
<text class="tk" x="650.2" y="686.5" text-anchor="middle">0.8</text>
<text class="ax" x="297.8" y="716" style="font-size:38px" text-anchor="middle">θ</text>
<text class="ax" x="753.3" y="686" text-anchor="middle">μ</text>
<text class="ax" transform="translate(22.2,360) rotate(-90)" text-anchor="middle" style="stroke:#262626;stroke-width:0.5">π</text>
<text class="an" x="435" y="119.5">TdMs</text>
<text class="an" x="887.3" y="357.5">TfMs</text>
<text class="an" x="762.6" y="528.5">TdMd</text>
<line class="ar" x1="458.5" y1="123.1" x2="515.3" y2="190.8"/><path class="ah" d="M526.7 204.4L503.2 191.5L514.6 190L518.1 179Z"/>
<line class="ar" x1="865.6" y1="348.3" x2="786.7" y2="323.6"/><path class="ah" d="M769.7 318.3L796.5 316.5L787.6 323.9L790.6 335.1Z"/>
<line class="ar" x1="794.8" y1="495.9" x2="741" y2="454.2"/><path class="ah" d="M726.9 443.3L752.6 450.9L741.8 454.8L740.7 466.3Z"/>
</g>
</svg>
</body>
</html>
